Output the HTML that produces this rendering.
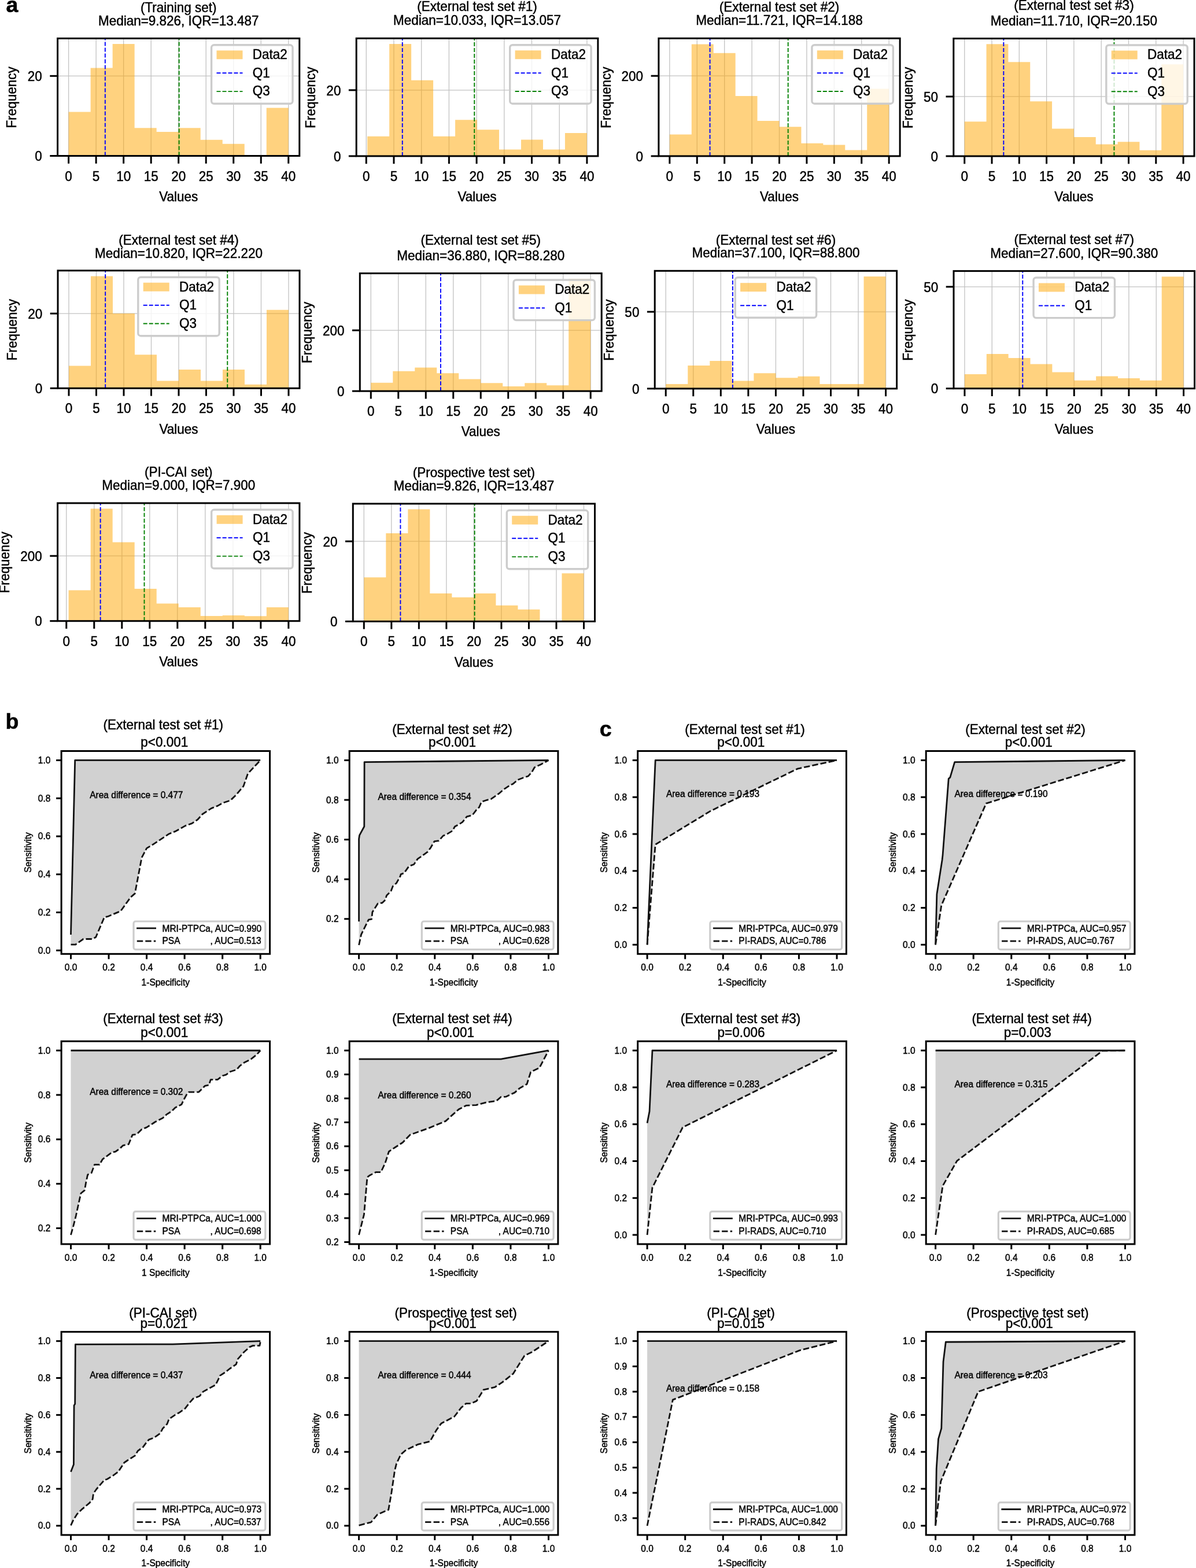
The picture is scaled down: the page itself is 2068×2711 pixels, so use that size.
<!DOCTYPE html><html><head><meta charset="utf-8"><title>Figure</title><style>html,body{margin:0;padding:0;background:#fff;}svg{display:block;}</style></head><body>
<svg width="2068" height="2711" viewBox="0 0 2068 2711" font-family="'Liberation Sans', Arial, Helvetica, sans-serif">
<rect width="2068" height="2711" fill="#fff"/>
<clipPath id="c1"><rect x="99.6" y="66.4" width="418.2" height="203.1"/></clipPath>
<g clip-path="url(#c1)">
<line x1="118.61" y1="66.4" x2="118.61" y2="269.5" stroke="#c2c2c2" stroke-width="1.3" stroke-linecap="butt"/>
<line x1="166.13" y1="66.4" x2="166.13" y2="269.5" stroke="#c2c2c2" stroke-width="1.3" stroke-linecap="butt"/>
<line x1="213.65" y1="66.4" x2="213.65" y2="269.5" stroke="#c2c2c2" stroke-width="1.3" stroke-linecap="butt"/>
<line x1="261.18" y1="66.4" x2="261.18" y2="269.5" stroke="#c2c2c2" stroke-width="1.3" stroke-linecap="butt"/>
<line x1="308.7" y1="66.4" x2="308.7" y2="269.5" stroke="#c2c2c2" stroke-width="1.3" stroke-linecap="butt"/>
<line x1="356.22" y1="66.4" x2="356.22" y2="269.5" stroke="#c2c2c2" stroke-width="1.3" stroke-linecap="butt"/>
<line x1="403.75" y1="66.4" x2="403.75" y2="269.5" stroke="#c2c2c2" stroke-width="1.3" stroke-linecap="butt"/>
<line x1="451.27" y1="66.4" x2="451.27" y2="269.5" stroke="#c2c2c2" stroke-width="1.3" stroke-linecap="butt"/>
<line x1="498.79" y1="66.4" x2="498.79" y2="269.5" stroke="#c2c2c2" stroke-width="1.3" stroke-linecap="butt"/>
<line x1="99.6" y1="269.5" x2="517.8" y2="269.5" stroke="#c2c2c2" stroke-width="1.3" stroke-linecap="butt"/>
<line x1="99.6" y1="131.34" x2="517.8" y2="131.34" stroke="#c2c2c2" stroke-width="1.3" stroke-linecap="butt"/>
<path d="M118.61 269.5H156.63V193.51H118.61ZM156.63 269.5H194.65V117.52H156.63ZM194.65 269.5H232.66V76.07H194.65ZM232.66 269.5H270.68V221.14H232.66ZM270.68 269.5H308.7V228.05H270.68ZM308.7 269.5H346.72V221.14H308.7ZM346.72 269.5H384.74V241.87H346.72ZM384.74 269.5H422.75V248.78H384.74ZM460.77 269.5H498.79V186.6H460.77Z" fill="#FFA500" fill-opacity="0.5"/>
<line x1="181.81" y1="269.5" x2="181.81" y2="66.4" stroke="#0000ff" stroke-width="1.9" stroke-linecap="butt" stroke-dasharray="7 3"/>
<line x1="309.65" y1="269.5" x2="309.65" y2="66.4" stroke="#008000" stroke-width="1.9" stroke-linecap="butt" stroke-dasharray="7 3"/>
<rect x="365.6" y="77.8" width="140.4" height="101.5" rx="4.5" fill="#fff" fill-opacity="0.8" stroke="#cccccc" stroke-width="3.4"/>
</g>
<rect x="374.5" y="87.3" width="45" height="15" fill="#FFA500" fill-opacity="0.5"/>
<text transform="translate(436.8 102.2) scale(1 1.04)" font-size="22.5" text-anchor="start" fill="#000" stroke="#000" stroke-width="0.45">Data2</text>
<line x1="374.5" y1="126.3" x2="419.5" y2="126.3" stroke="#0000ff" stroke-width="1.9" stroke-linecap="butt" stroke-dasharray="7 3"/>
<text transform="translate(436.8 133.7) scale(1 1.04)" font-size="22.5" text-anchor="start" fill="#000" stroke="#000" stroke-width="0.45">Q1</text>
<line x1="374.5" y1="158.1" x2="419.5" y2="158.1" stroke="#008000" stroke-width="1.9" stroke-linecap="butt" stroke-dasharray="7 3"/>
<text transform="translate(436.8 165.3) scale(1 1.04)" font-size="22.5" text-anchor="start" fill="#000" stroke="#000" stroke-width="0.45">Q3</text>
<rect x="99.6" y="66.4" width="418.2" height="203.1" fill="none" stroke="#000" stroke-width="3"/>
<line x1="118.61" y1="269.5" x2="118.61" y2="282.8" stroke="#000" stroke-width="3" stroke-linecap="butt"/>
<text transform="translate(118.61 312.5) scale(1 1.1)" font-size="22.5" text-anchor="middle" fill="#000" stroke="#000" stroke-width="0.45">0</text>
<line x1="166.13" y1="269.5" x2="166.13" y2="282.8" stroke="#000" stroke-width="3" stroke-linecap="butt"/>
<text transform="translate(166.13 312.5) scale(1 1.1)" font-size="22.5" text-anchor="middle" fill="#000" stroke="#000" stroke-width="0.45">5</text>
<line x1="213.65" y1="269.5" x2="213.65" y2="282.8" stroke="#000" stroke-width="3" stroke-linecap="butt"/>
<text transform="translate(213.65 312.5) scale(1 1.1)" font-size="22.5" text-anchor="middle" fill="#000" stroke="#000" stroke-width="0.45">10</text>
<line x1="261.18" y1="269.5" x2="261.18" y2="282.8" stroke="#000" stroke-width="3" stroke-linecap="butt"/>
<text transform="translate(261.18 312.5) scale(1 1.1)" font-size="22.5" text-anchor="middle" fill="#000" stroke="#000" stroke-width="0.45">15</text>
<line x1="308.7" y1="269.5" x2="308.7" y2="282.8" stroke="#000" stroke-width="3" stroke-linecap="butt"/>
<text transform="translate(308.7 312.5) scale(1 1.1)" font-size="22.5" text-anchor="middle" fill="#000" stroke="#000" stroke-width="0.45">20</text>
<line x1="356.22" y1="269.5" x2="356.22" y2="282.8" stroke="#000" stroke-width="3" stroke-linecap="butt"/>
<text transform="translate(356.22 312.5) scale(1 1.1)" font-size="22.5" text-anchor="middle" fill="#000" stroke="#000" stroke-width="0.45">25</text>
<line x1="403.75" y1="269.5" x2="403.75" y2="282.8" stroke="#000" stroke-width="3" stroke-linecap="butt"/>
<text transform="translate(403.75 312.5) scale(1 1.1)" font-size="22.5" text-anchor="middle" fill="#000" stroke="#000" stroke-width="0.45">30</text>
<line x1="451.27" y1="269.5" x2="451.27" y2="282.8" stroke="#000" stroke-width="3" stroke-linecap="butt"/>
<text transform="translate(451.27 312.5) scale(1 1.1)" font-size="22.5" text-anchor="middle" fill="#000" stroke="#000" stroke-width="0.45">35</text>
<line x1="498.79" y1="269.5" x2="498.79" y2="282.8" stroke="#000" stroke-width="3" stroke-linecap="butt"/>
<text transform="translate(498.79 312.5) scale(1 1.1)" font-size="22.5" text-anchor="middle" fill="#000" stroke="#000" stroke-width="0.45">40</text>
<line x1="86.3" y1="269.5" x2="99.6" y2="269.5" stroke="#000" stroke-width="3" stroke-linecap="butt"/>
<text transform="translate(72.8 278.2) scale(1 1.08)" font-size="22.5" text-anchor="end" fill="#000" stroke="#000" stroke-width="0.45">0</text>
<line x1="86.3" y1="131.34" x2="99.6" y2="131.34" stroke="#000" stroke-width="3" stroke-linecap="butt"/>
<text transform="translate(72.8 140.04) scale(1 1.08)" font-size="22.5" text-anchor="end" fill="#000" stroke="#000" stroke-width="0.45">20</text>
<text transform="translate(308.7 347.7) scale(1 1.04)" font-size="22.5" text-anchor="middle" fill="#000" stroke="#000" stroke-width="0.45">Values</text>
<text transform="translate(28.4 168.45) rotate(-90) scale(1 1.04)" font-size="22.5" text-anchor="middle" fill="#000" stroke="#000" stroke-width="0.45">Frequency</text>
<text transform="translate(308.7 21) scale(1 1.04)" font-size="22.5" text-anchor="middle" fill="#000" stroke="#000" stroke-width="0.45">(Training set)</text>
<text transform="translate(308.7 43.6) scale(1 1.04)" font-size="22.5" text-anchor="middle" fill="#000" stroke="#000" stroke-width="0.45">Median=9.826, IQR=13.487</text>
<clipPath id="c2"><rect x="616.2" y="66.3" width="417.7" height="203.6"/></clipPath>
<g clip-path="url(#c2)">
<line x1="633.28" y1="66.3" x2="633.28" y2="269.9" stroke="#c2c2c2" stroke-width="1.3" stroke-linecap="butt"/>
<line x1="680.98" y1="66.3" x2="680.98" y2="269.9" stroke="#c2c2c2" stroke-width="1.3" stroke-linecap="butt"/>
<line x1="728.69" y1="66.3" x2="728.69" y2="269.9" stroke="#c2c2c2" stroke-width="1.3" stroke-linecap="butt"/>
<line x1="776.39" y1="66.3" x2="776.39" y2="269.9" stroke="#c2c2c2" stroke-width="1.3" stroke-linecap="butt"/>
<line x1="824.1" y1="66.3" x2="824.1" y2="269.9" stroke="#c2c2c2" stroke-width="1.3" stroke-linecap="butt"/>
<line x1="871.8" y1="66.3" x2="871.8" y2="269.9" stroke="#c2c2c2" stroke-width="1.3" stroke-linecap="butt"/>
<line x1="919.5" y1="66.3" x2="919.5" y2="269.9" stroke="#c2c2c2" stroke-width="1.3" stroke-linecap="butt"/>
<line x1="967.21" y1="66.3" x2="967.21" y2="269.9" stroke="#c2c2c2" stroke-width="1.3" stroke-linecap="butt"/>
<line x1="1014.91" y1="66.3" x2="1014.91" y2="269.9" stroke="#c2c2c2" stroke-width="1.3" stroke-linecap="butt"/>
<line x1="616.2" y1="269.9" x2="1033.9" y2="269.9" stroke="#c2c2c2" stroke-width="1.3" stroke-linecap="butt"/>
<line x1="616.2" y1="155.84" x2="1033.9" y2="155.84" stroke="#c2c2c2" stroke-width="1.3" stroke-linecap="butt"/>
<path d="M635.19 269.9H673.16V235.68H635.19ZM673.16 269.9H711.13V76H673.16ZM711.13 269.9H749.1V138.73H711.13ZM749.1 269.9H787.08V235.68H749.1ZM787.08 269.9H825.05V207.17H787.08ZM825.05 269.9H863.02V224.28H825.05ZM863.02 269.9H901V258.49H863.02ZM901 269.9H938.97V241.38H901ZM938.97 269.9H976.94V258.49H938.97ZM976.94 269.9H1014.91V229.98H976.94Z" fill="#FFA500" fill-opacity="0.5"/>
<line x1="695.77" y1="269.9" x2="695.77" y2="66.3" stroke="#0000ff" stroke-width="1.9" stroke-linecap="butt" stroke-dasharray="7 3"/>
<line x1="820.28" y1="269.9" x2="820.28" y2="66.3" stroke="#008000" stroke-width="1.9" stroke-linecap="butt" stroke-dasharray="7 3"/>
<rect x="881.7" y="77.7" width="140.4" height="101.5" rx="4.5" fill="#fff" fill-opacity="0.8" stroke="#cccccc" stroke-width="3.4"/>
</g>
<rect x="890.6" y="87.2" width="45" height="15" fill="#FFA500" fill-opacity="0.5"/>
<text transform="translate(952.9 102.1) scale(1 1.04)" font-size="22.5" text-anchor="start" fill="#000" stroke="#000" stroke-width="0.45">Data2</text>
<line x1="890.6" y1="126.2" x2="935.6" y2="126.2" stroke="#0000ff" stroke-width="1.9" stroke-linecap="butt" stroke-dasharray="7 3"/>
<text transform="translate(952.9 133.6) scale(1 1.04)" font-size="22.5" text-anchor="start" fill="#000" stroke="#000" stroke-width="0.45">Q1</text>
<line x1="890.6" y1="158" x2="935.6" y2="158" stroke="#008000" stroke-width="1.9" stroke-linecap="butt" stroke-dasharray="7 3"/>
<text transform="translate(952.9 165.2) scale(1 1.04)" font-size="22.5" text-anchor="start" fill="#000" stroke="#000" stroke-width="0.45">Q3</text>
<rect x="616.2" y="66.3" width="417.7" height="203.6" fill="none" stroke="#000" stroke-width="3"/>
<line x1="633.28" y1="269.9" x2="633.28" y2="283.2" stroke="#000" stroke-width="3" stroke-linecap="butt"/>
<text transform="translate(633.28 312.9) scale(1 1.1)" font-size="22.5" text-anchor="middle" fill="#000" stroke="#000" stroke-width="0.45">0</text>
<line x1="680.98" y1="269.9" x2="680.98" y2="283.2" stroke="#000" stroke-width="3" stroke-linecap="butt"/>
<text transform="translate(680.98 312.9) scale(1 1.1)" font-size="22.5" text-anchor="middle" fill="#000" stroke="#000" stroke-width="0.45">5</text>
<line x1="728.69" y1="269.9" x2="728.69" y2="283.2" stroke="#000" stroke-width="3" stroke-linecap="butt"/>
<text transform="translate(728.69 312.9) scale(1 1.1)" font-size="22.5" text-anchor="middle" fill="#000" stroke="#000" stroke-width="0.45">10</text>
<line x1="776.39" y1="269.9" x2="776.39" y2="283.2" stroke="#000" stroke-width="3" stroke-linecap="butt"/>
<text transform="translate(776.39 312.9) scale(1 1.1)" font-size="22.5" text-anchor="middle" fill="#000" stroke="#000" stroke-width="0.45">15</text>
<line x1="824.1" y1="269.9" x2="824.1" y2="283.2" stroke="#000" stroke-width="3" stroke-linecap="butt"/>
<text transform="translate(824.1 312.9) scale(1 1.1)" font-size="22.5" text-anchor="middle" fill="#000" stroke="#000" stroke-width="0.45">20</text>
<line x1="871.8" y1="269.9" x2="871.8" y2="283.2" stroke="#000" stroke-width="3" stroke-linecap="butt"/>
<text transform="translate(871.8 312.9) scale(1 1.1)" font-size="22.5" text-anchor="middle" fill="#000" stroke="#000" stroke-width="0.45">25</text>
<line x1="919.5" y1="269.9" x2="919.5" y2="283.2" stroke="#000" stroke-width="3" stroke-linecap="butt"/>
<text transform="translate(919.5 312.9) scale(1 1.1)" font-size="22.5" text-anchor="middle" fill="#000" stroke="#000" stroke-width="0.45">30</text>
<line x1="967.21" y1="269.9" x2="967.21" y2="283.2" stroke="#000" stroke-width="3" stroke-linecap="butt"/>
<text transform="translate(967.21 312.9) scale(1 1.1)" font-size="22.5" text-anchor="middle" fill="#000" stroke="#000" stroke-width="0.45">35</text>
<line x1="1014.91" y1="269.9" x2="1014.91" y2="283.2" stroke="#000" stroke-width="3" stroke-linecap="butt"/>
<text transform="translate(1014.91 312.9) scale(1 1.1)" font-size="22.5" text-anchor="middle" fill="#000" stroke="#000" stroke-width="0.45">40</text>
<line x1="602.9" y1="269.9" x2="616.2" y2="269.9" stroke="#000" stroke-width="3" stroke-linecap="butt"/>
<text transform="translate(589.4 278.6) scale(1 1.08)" font-size="22.5" text-anchor="end" fill="#000" stroke="#000" stroke-width="0.45">0</text>
<line x1="602.9" y1="155.84" x2="616.2" y2="155.84" stroke="#000" stroke-width="3" stroke-linecap="butt"/>
<text transform="translate(589.4 164.54) scale(1 1.08)" font-size="22.5" text-anchor="end" fill="#000" stroke="#000" stroke-width="0.45">20</text>
<text transform="translate(825.05 348.1) scale(1 1.04)" font-size="22.5" text-anchor="middle" fill="#000" stroke="#000" stroke-width="0.45">Values</text>
<text transform="translate(545 168.6) rotate(-90) scale(1 1.04)" font-size="22.5" text-anchor="middle" fill="#000" stroke="#000" stroke-width="0.45">Frequency</text>
<text transform="translate(825.05 19.4) scale(1 1.04)" font-size="22.5" text-anchor="middle" fill="#000" stroke="#000" stroke-width="0.45">(External test set #1)</text>
<text transform="translate(825.05 43.4) scale(1 1.04)" font-size="22.5" text-anchor="middle" fill="#000" stroke="#000" stroke-width="0.45">Median=10.033, IQR=13.057</text>
<clipPath id="c3"><rect x="1138.9" y="66.3" width="417.2" height="203.6"/></clipPath>
<g clip-path="url(#c3)">
<line x1="1157.86" y1="66.3" x2="1157.86" y2="269.9" stroke="#c2c2c2" stroke-width="1.3" stroke-linecap="butt"/>
<line x1="1205.27" y1="66.3" x2="1205.27" y2="269.9" stroke="#c2c2c2" stroke-width="1.3" stroke-linecap="butt"/>
<line x1="1252.68" y1="66.3" x2="1252.68" y2="269.9" stroke="#c2c2c2" stroke-width="1.3" stroke-linecap="butt"/>
<line x1="1300.09" y1="66.3" x2="1300.09" y2="269.9" stroke="#c2c2c2" stroke-width="1.3" stroke-linecap="butt"/>
<line x1="1347.5" y1="66.3" x2="1347.5" y2="269.9" stroke="#c2c2c2" stroke-width="1.3" stroke-linecap="butt"/>
<line x1="1394.91" y1="66.3" x2="1394.91" y2="269.9" stroke="#c2c2c2" stroke-width="1.3" stroke-linecap="butt"/>
<line x1="1442.32" y1="66.3" x2="1442.32" y2="269.9" stroke="#c2c2c2" stroke-width="1.3" stroke-linecap="butt"/>
<line x1="1489.73" y1="66.3" x2="1489.73" y2="269.9" stroke="#c2c2c2" stroke-width="1.3" stroke-linecap="butt"/>
<line x1="1537.14" y1="66.3" x2="1537.14" y2="269.9" stroke="#c2c2c2" stroke-width="1.3" stroke-linecap="butt"/>
<line x1="1138.9" y1="269.9" x2="1556.1" y2="269.9" stroke="#c2c2c2" stroke-width="1.3" stroke-linecap="butt"/>
<line x1="1138.9" y1="131.21" x2="1556.1" y2="131.21" stroke="#c2c2c2" stroke-width="1.3" stroke-linecap="butt"/>
<path d="M1157.86 269.9H1195.79V232.45H1157.86ZM1195.79 269.9H1233.72V76.42H1195.79ZM1233.72 269.9H1271.65V91.68H1233.72ZM1271.65 269.9H1309.57V165.88H1271.65ZM1309.57 269.9H1347.5V208.88H1309.57ZM1347.5 269.9H1385.43V219.28H1347.5ZM1385.43 269.9H1423.35V247.71H1385.43ZM1423.35 269.9H1461.28V250.48H1423.35ZM1461.28 269.9H1499.21V259.5H1461.28ZM1499.21 269.9H1537.14V153.4H1499.21Z" fill="#FFA500" fill-opacity="0.5"/>
<line x1="1227.56" y1="269.9" x2="1227.56" y2="66.3" stroke="#0000ff" stroke-width="1.9" stroke-linecap="butt" stroke-dasharray="7 3"/>
<line x1="1362.67" y1="269.9" x2="1362.67" y2="66.3" stroke="#008000" stroke-width="1.9" stroke-linecap="butt" stroke-dasharray="7 3"/>
<rect x="1403.9" y="77.7" width="140.4" height="101.5" rx="4.5" fill="#fff" fill-opacity="0.8" stroke="#cccccc" stroke-width="3.4"/>
</g>
<rect x="1412.8" y="87.2" width="45" height="15" fill="#FFA500" fill-opacity="0.5"/>
<text transform="translate(1475.1 102.1) scale(1 1.04)" font-size="22.5" text-anchor="start" fill="#000" stroke="#000" stroke-width="0.45">Data2</text>
<line x1="1412.8" y1="126.2" x2="1457.8" y2="126.2" stroke="#0000ff" stroke-width="1.9" stroke-linecap="butt" stroke-dasharray="7 3"/>
<text transform="translate(1475.1 133.6) scale(1 1.04)" font-size="22.5" text-anchor="start" fill="#000" stroke="#000" stroke-width="0.45">Q1</text>
<line x1="1412.8" y1="158" x2="1457.8" y2="158" stroke="#008000" stroke-width="1.9" stroke-linecap="butt" stroke-dasharray="7 3"/>
<text transform="translate(1475.1 165.2) scale(1 1.04)" font-size="22.5" text-anchor="start" fill="#000" stroke="#000" stroke-width="0.45">Q3</text>
<rect x="1138.9" y="66.3" width="417.2" height="203.6" fill="none" stroke="#000" stroke-width="3"/>
<line x1="1157.86" y1="269.9" x2="1157.86" y2="283.2" stroke="#000" stroke-width="3" stroke-linecap="butt"/>
<text transform="translate(1157.86 312.9) scale(1 1.1)" font-size="22.5" text-anchor="middle" fill="#000" stroke="#000" stroke-width="0.45">0</text>
<line x1="1205.27" y1="269.9" x2="1205.27" y2="283.2" stroke="#000" stroke-width="3" stroke-linecap="butt"/>
<text transform="translate(1205.27 312.9) scale(1 1.1)" font-size="22.5" text-anchor="middle" fill="#000" stroke="#000" stroke-width="0.45">5</text>
<line x1="1252.68" y1="269.9" x2="1252.68" y2="283.2" stroke="#000" stroke-width="3" stroke-linecap="butt"/>
<text transform="translate(1252.68 312.9) scale(1 1.1)" font-size="22.5" text-anchor="middle" fill="#000" stroke="#000" stroke-width="0.45">10</text>
<line x1="1300.09" y1="269.9" x2="1300.09" y2="283.2" stroke="#000" stroke-width="3" stroke-linecap="butt"/>
<text transform="translate(1300.09 312.9) scale(1 1.1)" font-size="22.5" text-anchor="middle" fill="#000" stroke="#000" stroke-width="0.45">15</text>
<line x1="1347.5" y1="269.9" x2="1347.5" y2="283.2" stroke="#000" stroke-width="3" stroke-linecap="butt"/>
<text transform="translate(1347.5 312.9) scale(1 1.1)" font-size="22.5" text-anchor="middle" fill="#000" stroke="#000" stroke-width="0.45">20</text>
<line x1="1394.91" y1="269.9" x2="1394.91" y2="283.2" stroke="#000" stroke-width="3" stroke-linecap="butt"/>
<text transform="translate(1394.91 312.9) scale(1 1.1)" font-size="22.5" text-anchor="middle" fill="#000" stroke="#000" stroke-width="0.45">25</text>
<line x1="1442.32" y1="269.9" x2="1442.32" y2="283.2" stroke="#000" stroke-width="3" stroke-linecap="butt"/>
<text transform="translate(1442.32 312.9) scale(1 1.1)" font-size="22.5" text-anchor="middle" fill="#000" stroke="#000" stroke-width="0.45">30</text>
<line x1="1489.73" y1="269.9" x2="1489.73" y2="283.2" stroke="#000" stroke-width="3" stroke-linecap="butt"/>
<text transform="translate(1489.73 312.9) scale(1 1.1)" font-size="22.5" text-anchor="middle" fill="#000" stroke="#000" stroke-width="0.45">35</text>
<line x1="1537.14" y1="269.9" x2="1537.14" y2="283.2" stroke="#000" stroke-width="3" stroke-linecap="butt"/>
<text transform="translate(1537.14 312.9) scale(1 1.1)" font-size="22.5" text-anchor="middle" fill="#000" stroke="#000" stroke-width="0.45">40</text>
<line x1="1125.6" y1="269.9" x2="1138.9" y2="269.9" stroke="#000" stroke-width="3" stroke-linecap="butt"/>
<text transform="translate(1112.1 278.6) scale(1 1.08)" font-size="22.5" text-anchor="end" fill="#000" stroke="#000" stroke-width="0.45">0</text>
<line x1="1125.6" y1="131.21" x2="1138.9" y2="131.21" stroke="#000" stroke-width="3" stroke-linecap="butt"/>
<text transform="translate(1112.1 139.91) scale(1 1.08)" font-size="22.5" text-anchor="end" fill="#000" stroke="#000" stroke-width="0.45">200</text>
<text transform="translate(1347.5 348.1) scale(1 1.04)" font-size="22.5" text-anchor="middle" fill="#000" stroke="#000" stroke-width="0.45">Values</text>
<text transform="translate(1055.5 168.6) rotate(-90) scale(1 1.04)" font-size="22.5" text-anchor="middle" fill="#000" stroke="#000" stroke-width="0.45">Frequency</text>
<text transform="translate(1347.5 19.6) scale(1 1.04)" font-size="22.5" text-anchor="middle" fill="#000" stroke="#000" stroke-width="0.45">(External test set #2)</text>
<text transform="translate(1347.5 43.4) scale(1 1.04)" font-size="22.5" text-anchor="middle" fill="#000" stroke="#000" stroke-width="0.45">Median=11.721, IQR=14.188</text>
<clipPath id="c4"><rect x="1648.8" y="66.6" width="416.2" height="203.4"/></clipPath>
<g clip-path="url(#c4)">
<line x1="1667.72" y1="66.6" x2="1667.72" y2="270" stroke="#c2c2c2" stroke-width="1.3" stroke-linecap="butt"/>
<line x1="1715.01" y1="66.6" x2="1715.01" y2="270" stroke="#c2c2c2" stroke-width="1.3" stroke-linecap="butt"/>
<line x1="1762.31" y1="66.6" x2="1762.31" y2="270" stroke="#c2c2c2" stroke-width="1.3" stroke-linecap="butt"/>
<line x1="1809.6" y1="66.6" x2="1809.6" y2="270" stroke="#c2c2c2" stroke-width="1.3" stroke-linecap="butt"/>
<line x1="1856.9" y1="66.6" x2="1856.9" y2="270" stroke="#c2c2c2" stroke-width="1.3" stroke-linecap="butt"/>
<line x1="1904.2" y1="66.6" x2="1904.2" y2="270" stroke="#c2c2c2" stroke-width="1.3" stroke-linecap="butt"/>
<line x1="1951.49" y1="66.6" x2="1951.49" y2="270" stroke="#c2c2c2" stroke-width="1.3" stroke-linecap="butt"/>
<line x1="1998.79" y1="66.6" x2="1998.79" y2="270" stroke="#c2c2c2" stroke-width="1.3" stroke-linecap="butt"/>
<line x1="2046.08" y1="66.6" x2="2046.08" y2="270" stroke="#c2c2c2" stroke-width="1.3" stroke-linecap="butt"/>
<line x1="1648.8" y1="270" x2="2065" y2="270" stroke="#c2c2c2" stroke-width="1.3" stroke-linecap="butt"/>
<line x1="1648.8" y1="166.96" x2="2065" y2="166.96" stroke="#c2c2c2" stroke-width="1.3" stroke-linecap="butt"/>
<path d="M1667.72 270H1705.55V210.24H1667.72ZM1705.55 270H1743.39V76.29H1705.55ZM1743.39 270H1781.23V107.2H1743.39ZM1781.23 270H1819.06V175.2H1781.23ZM1819.06 270H1856.9V222.6H1819.06ZM1856.9 270H1894.74V237.03H1856.9ZM1894.74 270H1932.57V249.39H1894.74ZM1932.57 270H1970.41V245.27H1932.57ZM1970.41 270H2008.25V259.7H1970.41ZM2008.25 270H2046.08V111.32H2008.25Z" fill="#FFA500" fill-opacity="0.5"/>
<line x1="1735.35" y1="270" x2="1735.35" y2="66.6" stroke="#0000ff" stroke-width="1.9" stroke-linecap="butt" stroke-dasharray="7 3"/>
<line x1="1926.42" y1="270" x2="1926.42" y2="66.6" stroke="#008000" stroke-width="1.9" stroke-linecap="butt" stroke-dasharray="7 3"/>
<rect x="1912.8" y="78" width="140.4" height="101.5" rx="4.5" fill="#fff" fill-opacity="0.8" stroke="#cccccc" stroke-width="3.4"/>
</g>
<rect x="1921.7" y="87.5" width="45" height="15" fill="#FFA500" fill-opacity="0.5"/>
<text transform="translate(1984 102.4) scale(1 1.04)" font-size="22.5" text-anchor="start" fill="#000" stroke="#000" stroke-width="0.45">Data2</text>
<line x1="1921.7" y1="126.5" x2="1966.7" y2="126.5" stroke="#0000ff" stroke-width="1.9" stroke-linecap="butt" stroke-dasharray="7 3"/>
<text transform="translate(1984 133.9) scale(1 1.04)" font-size="22.5" text-anchor="start" fill="#000" stroke="#000" stroke-width="0.45">Q1</text>
<line x1="1921.7" y1="158.3" x2="1966.7" y2="158.3" stroke="#008000" stroke-width="1.9" stroke-linecap="butt" stroke-dasharray="7 3"/>
<text transform="translate(1984 165.5) scale(1 1.04)" font-size="22.5" text-anchor="start" fill="#000" stroke="#000" stroke-width="0.45">Q3</text>
<rect x="1648.8" y="66.6" width="416.2" height="203.4" fill="none" stroke="#000" stroke-width="3"/>
<line x1="1667.72" y1="270" x2="1667.72" y2="283.3" stroke="#000" stroke-width="3" stroke-linecap="butt"/>
<text transform="translate(1667.72 313) scale(1 1.1)" font-size="22.5" text-anchor="middle" fill="#000" stroke="#000" stroke-width="0.45">0</text>
<line x1="1715.01" y1="270" x2="1715.01" y2="283.3" stroke="#000" stroke-width="3" stroke-linecap="butt"/>
<text transform="translate(1715.01 313) scale(1 1.1)" font-size="22.5" text-anchor="middle" fill="#000" stroke="#000" stroke-width="0.45">5</text>
<line x1="1762.31" y1="270" x2="1762.31" y2="283.3" stroke="#000" stroke-width="3" stroke-linecap="butt"/>
<text transform="translate(1762.31 313) scale(1 1.1)" font-size="22.5" text-anchor="middle" fill="#000" stroke="#000" stroke-width="0.45">10</text>
<line x1="1809.6" y1="270" x2="1809.6" y2="283.3" stroke="#000" stroke-width="3" stroke-linecap="butt"/>
<text transform="translate(1809.6 313) scale(1 1.1)" font-size="22.5" text-anchor="middle" fill="#000" stroke="#000" stroke-width="0.45">15</text>
<line x1="1856.9" y1="270" x2="1856.9" y2="283.3" stroke="#000" stroke-width="3" stroke-linecap="butt"/>
<text transform="translate(1856.9 313) scale(1 1.1)" font-size="22.5" text-anchor="middle" fill="#000" stroke="#000" stroke-width="0.45">20</text>
<line x1="1904.2" y1="270" x2="1904.2" y2="283.3" stroke="#000" stroke-width="3" stroke-linecap="butt"/>
<text transform="translate(1904.2 313) scale(1 1.1)" font-size="22.5" text-anchor="middle" fill="#000" stroke="#000" stroke-width="0.45">25</text>
<line x1="1951.49" y1="270" x2="1951.49" y2="283.3" stroke="#000" stroke-width="3" stroke-linecap="butt"/>
<text transform="translate(1951.49 313) scale(1 1.1)" font-size="22.5" text-anchor="middle" fill="#000" stroke="#000" stroke-width="0.45">30</text>
<line x1="1998.79" y1="270" x2="1998.79" y2="283.3" stroke="#000" stroke-width="3" stroke-linecap="butt"/>
<text transform="translate(1998.79 313) scale(1 1.1)" font-size="22.5" text-anchor="middle" fill="#000" stroke="#000" stroke-width="0.45">35</text>
<line x1="2046.08" y1="270" x2="2046.08" y2="283.3" stroke="#000" stroke-width="3" stroke-linecap="butt"/>
<text transform="translate(2046.08 313) scale(1 1.1)" font-size="22.5" text-anchor="middle" fill="#000" stroke="#000" stroke-width="0.45">40</text>
<line x1="1635.5" y1="270" x2="1648.8" y2="270" stroke="#000" stroke-width="3" stroke-linecap="butt"/>
<text transform="translate(1622 278.7) scale(1 1.08)" font-size="22.5" text-anchor="end" fill="#000" stroke="#000" stroke-width="0.45">0</text>
<line x1="1635.5" y1="166.96" x2="1648.8" y2="166.96" stroke="#000" stroke-width="3" stroke-linecap="butt"/>
<text transform="translate(1622 175.66) scale(1 1.08)" font-size="22.5" text-anchor="end" fill="#000" stroke="#000" stroke-width="0.45">50</text>
<text transform="translate(1856.9 348.2) scale(1 1.04)" font-size="22.5" text-anchor="middle" fill="#000" stroke="#000" stroke-width="0.45">Values</text>
<text transform="translate(1577.6 168.8) rotate(-90) scale(1 1.04)" font-size="22.5" text-anchor="middle" fill="#000" stroke="#000" stroke-width="0.45">Frequency</text>
<text transform="translate(1856.9 16.8) scale(1 1.04)" font-size="22.5" text-anchor="middle" fill="#000" stroke="#000" stroke-width="0.45">(External test set #3)</text>
<text transform="translate(1856.9 43.6) scale(1 1.04)" font-size="22.5" text-anchor="middle" fill="#000" stroke="#000" stroke-width="0.45">Median=11.710, IQR=20.150</text>
<clipPath id="c5"><rect x="100" y="467.8" width="418" height="203.5"/></clipPath>
<g clip-path="url(#c5)">
<line x1="119" y1="467.8" x2="119" y2="671.3" stroke="#c2c2c2" stroke-width="1.3" stroke-linecap="butt"/>
<line x1="166.5" y1="467.8" x2="166.5" y2="671.3" stroke="#c2c2c2" stroke-width="1.3" stroke-linecap="butt"/>
<line x1="214" y1="467.8" x2="214" y2="671.3" stroke="#c2c2c2" stroke-width="1.3" stroke-linecap="butt"/>
<line x1="261.5" y1="467.8" x2="261.5" y2="671.3" stroke="#c2c2c2" stroke-width="1.3" stroke-linecap="butt"/>
<line x1="309" y1="467.8" x2="309" y2="671.3" stroke="#c2c2c2" stroke-width="1.3" stroke-linecap="butt"/>
<line x1="356.5" y1="467.8" x2="356.5" y2="671.3" stroke="#c2c2c2" stroke-width="1.3" stroke-linecap="butt"/>
<line x1="404" y1="467.8" x2="404" y2="671.3" stroke="#c2c2c2" stroke-width="1.3" stroke-linecap="butt"/>
<line x1="451.5" y1="467.8" x2="451.5" y2="671.3" stroke="#c2c2c2" stroke-width="1.3" stroke-linecap="butt"/>
<line x1="499" y1="467.8" x2="499" y2="671.3" stroke="#c2c2c2" stroke-width="1.3" stroke-linecap="butt"/>
<line x1="100" y1="671.3" x2="518" y2="671.3" stroke="#c2c2c2" stroke-width="1.3" stroke-linecap="butt"/>
<line x1="100" y1="542.09" x2="518" y2="542.09" stroke="#c2c2c2" stroke-width="1.3" stroke-linecap="butt"/>
<path d="M119 671.3H157V632.54H119ZM157 671.3H195V477.49H157ZM195 671.3H233V542.09H195ZM233 671.3H271V613.16H233ZM271 671.3H309V658.38H271ZM309 671.3H347V639H309ZM347 671.3H385V658.38H347ZM385 671.3H423V639H385ZM423 671.3H461V664.84H423ZM461 671.3H499V535.63H461Z" fill="#FFA500" fill-opacity="0.5"/>
<line x1="182.18" y1="671.3" x2="182.18" y2="467.8" stroke="#0000ff" stroke-width="1.9" stroke-linecap="butt" stroke-dasharray="7 3"/>
<line x1="393.27" y1="671.3" x2="393.27" y2="467.8" stroke="#008000" stroke-width="1.9" stroke-linecap="butt" stroke-dasharray="7 3"/>
<rect x="238.8" y="479.2" width="140.4" height="101.5" rx="4.5" fill="#fff" fill-opacity="0.8" stroke="#cccccc" stroke-width="3.4"/>
</g>
<rect x="247.7" y="488.7" width="45" height="15" fill="#FFA500" fill-opacity="0.5"/>
<text transform="translate(310 503.6) scale(1 1.04)" font-size="22.5" text-anchor="start" fill="#000" stroke="#000" stroke-width="0.45">Data2</text>
<line x1="247.7" y1="527.7" x2="292.7" y2="527.7" stroke="#0000ff" stroke-width="1.9" stroke-linecap="butt" stroke-dasharray="7 3"/>
<text transform="translate(310 535.1) scale(1 1.04)" font-size="22.5" text-anchor="start" fill="#000" stroke="#000" stroke-width="0.45">Q1</text>
<line x1="247.7" y1="559.5" x2="292.7" y2="559.5" stroke="#008000" stroke-width="1.9" stroke-linecap="butt" stroke-dasharray="7 3"/>
<text transform="translate(310 566.7) scale(1 1.04)" font-size="22.5" text-anchor="start" fill="#000" stroke="#000" stroke-width="0.45">Q3</text>
<rect x="100" y="467.8" width="418" height="203.5" fill="none" stroke="#000" stroke-width="3"/>
<line x1="119" y1="671.3" x2="119" y2="684.6" stroke="#000" stroke-width="3" stroke-linecap="butt"/>
<text transform="translate(119 714.3) scale(1 1.1)" font-size="22.5" text-anchor="middle" fill="#000" stroke="#000" stroke-width="0.45">0</text>
<line x1="166.5" y1="671.3" x2="166.5" y2="684.6" stroke="#000" stroke-width="3" stroke-linecap="butt"/>
<text transform="translate(166.5 714.3) scale(1 1.1)" font-size="22.5" text-anchor="middle" fill="#000" stroke="#000" stroke-width="0.45">5</text>
<line x1="214" y1="671.3" x2="214" y2="684.6" stroke="#000" stroke-width="3" stroke-linecap="butt"/>
<text transform="translate(214 714.3) scale(1 1.1)" font-size="22.5" text-anchor="middle" fill="#000" stroke="#000" stroke-width="0.45">10</text>
<line x1="261.5" y1="671.3" x2="261.5" y2="684.6" stroke="#000" stroke-width="3" stroke-linecap="butt"/>
<text transform="translate(261.5 714.3) scale(1 1.1)" font-size="22.5" text-anchor="middle" fill="#000" stroke="#000" stroke-width="0.45">15</text>
<line x1="309" y1="671.3" x2="309" y2="684.6" stroke="#000" stroke-width="3" stroke-linecap="butt"/>
<text transform="translate(309 714.3) scale(1 1.1)" font-size="22.5" text-anchor="middle" fill="#000" stroke="#000" stroke-width="0.45">20</text>
<line x1="356.5" y1="671.3" x2="356.5" y2="684.6" stroke="#000" stroke-width="3" stroke-linecap="butt"/>
<text transform="translate(356.5 714.3) scale(1 1.1)" font-size="22.5" text-anchor="middle" fill="#000" stroke="#000" stroke-width="0.45">25</text>
<line x1="404" y1="671.3" x2="404" y2="684.6" stroke="#000" stroke-width="3" stroke-linecap="butt"/>
<text transform="translate(404 714.3) scale(1 1.1)" font-size="22.5" text-anchor="middle" fill="#000" stroke="#000" stroke-width="0.45">30</text>
<line x1="451.5" y1="671.3" x2="451.5" y2="684.6" stroke="#000" stroke-width="3" stroke-linecap="butt"/>
<text transform="translate(451.5 714.3) scale(1 1.1)" font-size="22.5" text-anchor="middle" fill="#000" stroke="#000" stroke-width="0.45">35</text>
<line x1="499" y1="671.3" x2="499" y2="684.6" stroke="#000" stroke-width="3" stroke-linecap="butt"/>
<text transform="translate(499 714.3) scale(1 1.1)" font-size="22.5" text-anchor="middle" fill="#000" stroke="#000" stroke-width="0.45">40</text>
<line x1="86.7" y1="671.3" x2="100" y2="671.3" stroke="#000" stroke-width="3" stroke-linecap="butt"/>
<text transform="translate(73.2 680) scale(1 1.08)" font-size="22.5" text-anchor="end" fill="#000" stroke="#000" stroke-width="0.45">0</text>
<line x1="86.7" y1="542.09" x2="100" y2="542.09" stroke="#000" stroke-width="3" stroke-linecap="butt"/>
<text transform="translate(73.2 550.79) scale(1 1.08)" font-size="22.5" text-anchor="end" fill="#000" stroke="#000" stroke-width="0.45">20</text>
<text transform="translate(309 749.5) scale(1 1.04)" font-size="22.5" text-anchor="middle" fill="#000" stroke="#000" stroke-width="0.45">Values</text>
<text transform="translate(28.8 570.05) rotate(-90) scale(1 1.04)" font-size="22.5" text-anchor="middle" fill="#000" stroke="#000" stroke-width="0.45">Frequency</text>
<text transform="translate(309 422.5) scale(1 1.04)" font-size="22.5" text-anchor="middle" fill="#000" stroke="#000" stroke-width="0.45">(External test set #4)</text>
<text transform="translate(309 445.7) scale(1 1.04)" font-size="22.5" text-anchor="middle" fill="#000" stroke="#000" stroke-width="0.45">Median=10.820, IQR=22.220</text>
<clipPath id="c6"><rect x="622.3" y="472.6" width="417.9" height="203.6"/></clipPath>
<g clip-path="url(#c6)">
<line x1="641.3" y1="472.6" x2="641.3" y2="676.2" stroke="#c2c2c2" stroke-width="1.3" stroke-linecap="butt"/>
<line x1="688.78" y1="472.6" x2="688.78" y2="676.2" stroke="#c2c2c2" stroke-width="1.3" stroke-linecap="butt"/>
<line x1="736.27" y1="472.6" x2="736.27" y2="676.2" stroke="#c2c2c2" stroke-width="1.3" stroke-linecap="butt"/>
<line x1="783.76" y1="472.6" x2="783.76" y2="676.2" stroke="#c2c2c2" stroke-width="1.3" stroke-linecap="butt"/>
<line x1="831.25" y1="472.6" x2="831.25" y2="676.2" stroke="#c2c2c2" stroke-width="1.3" stroke-linecap="butt"/>
<line x1="878.74" y1="472.6" x2="878.74" y2="676.2" stroke="#c2c2c2" stroke-width="1.3" stroke-linecap="butt"/>
<line x1="926.23" y1="472.6" x2="926.23" y2="676.2" stroke="#c2c2c2" stroke-width="1.3" stroke-linecap="butt"/>
<line x1="973.72" y1="472.6" x2="973.72" y2="676.2" stroke="#c2c2c2" stroke-width="1.3" stroke-linecap="butt"/>
<line x1="1021.2" y1="472.6" x2="1021.2" y2="676.2" stroke="#c2c2c2" stroke-width="1.3" stroke-linecap="butt"/>
<line x1="622.3" y1="676.2" x2="1040.2" y2="676.2" stroke="#c2c2c2" stroke-width="1.3" stroke-linecap="butt"/>
<line x1="622.3" y1="571.1" x2="1040.2" y2="571.1" stroke="#c2c2c2" stroke-width="1.3" stroke-linecap="butt"/>
<path d="M641.3 676.2H679.29V661.7H641.3ZM679.29 676.2H717.28V641.78H679.29ZM717.28 676.2H755.27V635.47H717.28ZM755.27 676.2H793.26V645.25H755.27ZM793.26 676.2H831.25V655.39H793.26ZM831.25 676.2H869.24V662.27H831.25ZM869.24 676.2H907.23V668H869.24ZM907.23 676.2H945.22V662.27H907.23ZM945.22 676.2H983.21V666.37H945.22ZM983.21 676.2H1021.2V482.3H983.21Z" fill="#FFA500" fill-opacity="0.5"/>
<line x1="761.92" y1="676.2" x2="761.92" y2="472.6" stroke="#0000ff" stroke-width="1.9" stroke-linecap="butt" stroke-dasharray="7 3"/>
<rect x="888" y="484" width="140.4" height="69.6" rx="4.5" fill="#fff" fill-opacity="0.8" stroke="#cccccc" stroke-width="3.4"/>
</g>
<rect x="896.9" y="493.5" width="45" height="15" fill="#FFA500" fill-opacity="0.5"/>
<text transform="translate(959.2 508.4) scale(1 1.04)" font-size="22.5" text-anchor="start" fill="#000" stroke="#000" stroke-width="0.45">Data2</text>
<line x1="896.9" y1="532.5" x2="941.9" y2="532.5" stroke="#0000ff" stroke-width="1.9" stroke-linecap="butt" stroke-dasharray="7 3"/>
<text transform="translate(959.2 539.9) scale(1 1.04)" font-size="22.5" text-anchor="start" fill="#000" stroke="#000" stroke-width="0.45">Q1</text>
<rect x="622.3" y="472.6" width="417.9" height="203.6" fill="none" stroke="#000" stroke-width="3"/>
<line x1="641.3" y1="676.2" x2="641.3" y2="689.5" stroke="#000" stroke-width="3" stroke-linecap="butt"/>
<text transform="translate(641.3 719.2) scale(1 1.1)" font-size="22.5" text-anchor="middle" fill="#000" stroke="#000" stroke-width="0.45">0</text>
<line x1="688.78" y1="676.2" x2="688.78" y2="689.5" stroke="#000" stroke-width="3" stroke-linecap="butt"/>
<text transform="translate(688.78 719.2) scale(1 1.1)" font-size="22.5" text-anchor="middle" fill="#000" stroke="#000" stroke-width="0.45">5</text>
<line x1="736.27" y1="676.2" x2="736.27" y2="689.5" stroke="#000" stroke-width="3" stroke-linecap="butt"/>
<text transform="translate(736.27 719.2) scale(1 1.1)" font-size="22.5" text-anchor="middle" fill="#000" stroke="#000" stroke-width="0.45">10</text>
<line x1="783.76" y1="676.2" x2="783.76" y2="689.5" stroke="#000" stroke-width="3" stroke-linecap="butt"/>
<text transform="translate(783.76 719.2) scale(1 1.1)" font-size="22.5" text-anchor="middle" fill="#000" stroke="#000" stroke-width="0.45">15</text>
<line x1="831.25" y1="676.2" x2="831.25" y2="689.5" stroke="#000" stroke-width="3" stroke-linecap="butt"/>
<text transform="translate(831.25 719.2) scale(1 1.1)" font-size="22.5" text-anchor="middle" fill="#000" stroke="#000" stroke-width="0.45">20</text>
<line x1="878.74" y1="676.2" x2="878.74" y2="689.5" stroke="#000" stroke-width="3" stroke-linecap="butt"/>
<text transform="translate(878.74 719.2) scale(1 1.1)" font-size="22.5" text-anchor="middle" fill="#000" stroke="#000" stroke-width="0.45">25</text>
<line x1="926.23" y1="676.2" x2="926.23" y2="689.5" stroke="#000" stroke-width="3" stroke-linecap="butt"/>
<text transform="translate(926.23 719.2) scale(1 1.1)" font-size="22.5" text-anchor="middle" fill="#000" stroke="#000" stroke-width="0.45">30</text>
<line x1="973.72" y1="676.2" x2="973.72" y2="689.5" stroke="#000" stroke-width="3" stroke-linecap="butt"/>
<text transform="translate(973.72 719.2) scale(1 1.1)" font-size="22.5" text-anchor="middle" fill="#000" stroke="#000" stroke-width="0.45">35</text>
<line x1="1021.2" y1="676.2" x2="1021.2" y2="689.5" stroke="#000" stroke-width="3" stroke-linecap="butt"/>
<text transform="translate(1021.2 719.2) scale(1 1.1)" font-size="22.5" text-anchor="middle" fill="#000" stroke="#000" stroke-width="0.45">40</text>
<line x1="609" y1="676.2" x2="622.3" y2="676.2" stroke="#000" stroke-width="3" stroke-linecap="butt"/>
<text transform="translate(595.5 684.9) scale(1 1.08)" font-size="22.5" text-anchor="end" fill="#000" stroke="#000" stroke-width="0.45">0</text>
<line x1="609" y1="571.1" x2="622.3" y2="571.1" stroke="#000" stroke-width="3" stroke-linecap="butt"/>
<text transform="translate(595.5 579.8) scale(1 1.08)" font-size="22.5" text-anchor="end" fill="#000" stroke="#000" stroke-width="0.45">200</text>
<text transform="translate(831.25 754.4) scale(1 1.04)" font-size="22.5" text-anchor="middle" fill="#000" stroke="#000" stroke-width="0.45">Values</text>
<text transform="translate(538.9 574.9) rotate(-90) scale(1 1.04)" font-size="22.5" text-anchor="middle" fill="#000" stroke="#000" stroke-width="0.45">Frequency</text>
<text transform="translate(831.25 423.1) scale(1 1.04)" font-size="22.5" text-anchor="middle" fill="#000" stroke="#000" stroke-width="0.45">(External test set #5)</text>
<text transform="translate(831.25 449.9) scale(1 1.04)" font-size="22.5" text-anchor="middle" fill="#000" stroke="#000" stroke-width="0.45">Median=36.880, IQR=88.280</text>
<clipPath id="c7"><rect x="1132.2" y="468.3" width="418.4" height="203.6"/></clipPath>
<g clip-path="url(#c7)">
<line x1="1151.22" y1="468.3" x2="1151.22" y2="671.9" stroke="#c2c2c2" stroke-width="1.3" stroke-linecap="butt"/>
<line x1="1198.76" y1="468.3" x2="1198.76" y2="671.9" stroke="#c2c2c2" stroke-width="1.3" stroke-linecap="butt"/>
<line x1="1246.31" y1="468.3" x2="1246.31" y2="671.9" stroke="#c2c2c2" stroke-width="1.3" stroke-linecap="butt"/>
<line x1="1293.85" y1="468.3" x2="1293.85" y2="671.9" stroke="#c2c2c2" stroke-width="1.3" stroke-linecap="butt"/>
<line x1="1341.4" y1="468.3" x2="1341.4" y2="671.9" stroke="#c2c2c2" stroke-width="1.3" stroke-linecap="butt"/>
<line x1="1388.95" y1="468.3" x2="1388.95" y2="671.9" stroke="#c2c2c2" stroke-width="1.3" stroke-linecap="butt"/>
<line x1="1436.49" y1="468.3" x2="1436.49" y2="671.9" stroke="#c2c2c2" stroke-width="1.3" stroke-linecap="butt"/>
<line x1="1484.04" y1="468.3" x2="1484.04" y2="671.9" stroke="#c2c2c2" stroke-width="1.3" stroke-linecap="butt"/>
<line x1="1531.58" y1="468.3" x2="1531.58" y2="671.9" stroke="#c2c2c2" stroke-width="1.3" stroke-linecap="butt"/>
<line x1="1132.2" y1="671.9" x2="1550.6" y2="671.9" stroke="#c2c2c2" stroke-width="1.3" stroke-linecap="butt"/>
<line x1="1132.2" y1="539.09" x2="1550.6" y2="539.09" stroke="#c2c2c2" stroke-width="1.3" stroke-linecap="butt"/>
<path d="M1151.22 671.9H1189.25V663.93H1151.22ZM1189.25 671.9H1227.29V632.06H1189.25ZM1227.29 671.9H1265.33V624.09H1227.29ZM1265.33 671.9H1303.36V658.62H1265.33ZM1303.36 671.9H1341.4V645.34H1303.36ZM1341.4 671.9H1379.44V653.31H1341.4ZM1379.44 671.9H1417.47V650.65H1379.44ZM1417.47 671.9H1455.51V663.93H1417.47ZM1455.51 671.9H1493.55V663.93H1455.51ZM1493.55 671.9H1531.58V478H1493.55Z" fill="#FFA500" fill-opacity="0.5"/>
<line x1="1266.85" y1="671.9" x2="1266.85" y2="468.3" stroke="#0000ff" stroke-width="1.9" stroke-linecap="butt" stroke-dasharray="7 3"/>
<rect x="1271.2" y="479.7" width="140.4" height="69.6" rx="4.5" fill="#fff" fill-opacity="0.8" stroke="#cccccc" stroke-width="3.4"/>
</g>
<rect x="1280.1" y="489.2" width="45" height="15" fill="#FFA500" fill-opacity="0.5"/>
<text transform="translate(1342.4 504.1) scale(1 1.04)" font-size="22.5" text-anchor="start" fill="#000" stroke="#000" stroke-width="0.45">Data2</text>
<line x1="1280.1" y1="528.2" x2="1325.1" y2="528.2" stroke="#0000ff" stroke-width="1.9" stroke-linecap="butt" stroke-dasharray="7 3"/>
<text transform="translate(1342.4 535.6) scale(1 1.04)" font-size="22.5" text-anchor="start" fill="#000" stroke="#000" stroke-width="0.45">Q1</text>
<rect x="1132.2" y="468.3" width="418.4" height="203.6" fill="none" stroke="#000" stroke-width="3"/>
<line x1="1151.22" y1="671.9" x2="1151.22" y2="685.2" stroke="#000" stroke-width="3" stroke-linecap="butt"/>
<text transform="translate(1151.22 714.9) scale(1 1.1)" font-size="22.5" text-anchor="middle" fill="#000" stroke="#000" stroke-width="0.45">0</text>
<line x1="1198.76" y1="671.9" x2="1198.76" y2="685.2" stroke="#000" stroke-width="3" stroke-linecap="butt"/>
<text transform="translate(1198.76 714.9) scale(1 1.1)" font-size="22.5" text-anchor="middle" fill="#000" stroke="#000" stroke-width="0.45">5</text>
<line x1="1246.31" y1="671.9" x2="1246.31" y2="685.2" stroke="#000" stroke-width="3" stroke-linecap="butt"/>
<text transform="translate(1246.31 714.9) scale(1 1.1)" font-size="22.5" text-anchor="middle" fill="#000" stroke="#000" stroke-width="0.45">10</text>
<line x1="1293.85" y1="671.9" x2="1293.85" y2="685.2" stroke="#000" stroke-width="3" stroke-linecap="butt"/>
<text transform="translate(1293.85 714.9) scale(1 1.1)" font-size="22.5" text-anchor="middle" fill="#000" stroke="#000" stroke-width="0.45">15</text>
<line x1="1341.4" y1="671.9" x2="1341.4" y2="685.2" stroke="#000" stroke-width="3" stroke-linecap="butt"/>
<text transform="translate(1341.4 714.9) scale(1 1.1)" font-size="22.5" text-anchor="middle" fill="#000" stroke="#000" stroke-width="0.45">20</text>
<line x1="1388.95" y1="671.9" x2="1388.95" y2="685.2" stroke="#000" stroke-width="3" stroke-linecap="butt"/>
<text transform="translate(1388.95 714.9) scale(1 1.1)" font-size="22.5" text-anchor="middle" fill="#000" stroke="#000" stroke-width="0.45">25</text>
<line x1="1436.49" y1="671.9" x2="1436.49" y2="685.2" stroke="#000" stroke-width="3" stroke-linecap="butt"/>
<text transform="translate(1436.49 714.9) scale(1 1.1)" font-size="22.5" text-anchor="middle" fill="#000" stroke="#000" stroke-width="0.45">30</text>
<line x1="1484.04" y1="671.9" x2="1484.04" y2="685.2" stroke="#000" stroke-width="3" stroke-linecap="butt"/>
<text transform="translate(1484.04 714.9) scale(1 1.1)" font-size="22.5" text-anchor="middle" fill="#000" stroke="#000" stroke-width="0.45">35</text>
<line x1="1531.58" y1="671.9" x2="1531.58" y2="685.2" stroke="#000" stroke-width="3" stroke-linecap="butt"/>
<text transform="translate(1531.58 714.9) scale(1 1.1)" font-size="22.5" text-anchor="middle" fill="#000" stroke="#000" stroke-width="0.45">40</text>
<line x1="1118.9" y1="671.9" x2="1132.2" y2="671.9" stroke="#000" stroke-width="3" stroke-linecap="butt"/>
<text transform="translate(1105.4 680.6) scale(1 1.08)" font-size="22.5" text-anchor="end" fill="#000" stroke="#000" stroke-width="0.45">0</text>
<line x1="1118.9" y1="539.09" x2="1132.2" y2="539.09" stroke="#000" stroke-width="3" stroke-linecap="butt"/>
<text transform="translate(1105.4 547.79) scale(1 1.08)" font-size="22.5" text-anchor="end" fill="#000" stroke="#000" stroke-width="0.45">50</text>
<text transform="translate(1341.4 750.1) scale(1 1.04)" font-size="22.5" text-anchor="middle" fill="#000" stroke="#000" stroke-width="0.45">Values</text>
<text transform="translate(1061 570.6) rotate(-90) scale(1 1.04)" font-size="22.5" text-anchor="middle" fill="#000" stroke="#000" stroke-width="0.45">Frequency</text>
<text transform="translate(1341.4 423.1) scale(1 1.04)" font-size="22.5" text-anchor="middle" fill="#000" stroke="#000" stroke-width="0.45">(External test set #6)</text>
<text transform="translate(1341.4 445.2) scale(1 1.04)" font-size="22.5" text-anchor="middle" fill="#000" stroke="#000" stroke-width="0.45">Median=37.100, IQR=88.800</text>
<clipPath id="c8"><rect x="1649" y="468.6" width="416.5" height="203.1"/></clipPath>
<g clip-path="url(#c8)">
<line x1="1667.93" y1="468.6" x2="1667.93" y2="671.7" stroke="#c2c2c2" stroke-width="1.3" stroke-linecap="butt"/>
<line x1="1715.26" y1="468.6" x2="1715.26" y2="671.7" stroke="#c2c2c2" stroke-width="1.3" stroke-linecap="butt"/>
<line x1="1762.59" y1="468.6" x2="1762.59" y2="671.7" stroke="#c2c2c2" stroke-width="1.3" stroke-linecap="butt"/>
<line x1="1809.92" y1="468.6" x2="1809.92" y2="671.7" stroke="#c2c2c2" stroke-width="1.3" stroke-linecap="butt"/>
<line x1="1857.25" y1="468.6" x2="1857.25" y2="671.7" stroke="#c2c2c2" stroke-width="1.3" stroke-linecap="butt"/>
<line x1="1904.58" y1="468.6" x2="1904.58" y2="671.7" stroke="#c2c2c2" stroke-width="1.3" stroke-linecap="butt"/>
<line x1="1951.91" y1="468.6" x2="1951.91" y2="671.7" stroke="#c2c2c2" stroke-width="1.3" stroke-linecap="butt"/>
<line x1="1999.24" y1="468.6" x2="1999.24" y2="671.7" stroke="#c2c2c2" stroke-width="1.3" stroke-linecap="butt"/>
<line x1="2046.57" y1="468.6" x2="2046.57" y2="671.7" stroke="#c2c2c2" stroke-width="1.3" stroke-linecap="butt"/>
<line x1="1649" y1="671.7" x2="2065.5" y2="671.7" stroke="#c2c2c2" stroke-width="1.3" stroke-linecap="butt"/>
<line x1="1649" y1="495.86" x2="2065.5" y2="495.86" stroke="#c2c2c2" stroke-width="1.3" stroke-linecap="butt"/>
<path d="M1667.93 671.7H1705.8V647.08H1667.93ZM1705.8 671.7H1743.66V611.91H1705.8ZM1743.66 671.7H1781.52V618.95H1743.66ZM1781.52 671.7H1819.39V629.5H1781.52ZM1819.39 671.7H1857.25V643.56H1819.39ZM1857.25 671.7H1895.11V657.63H1857.25ZM1895.11 671.7H1932.98V650.6H1895.11ZM1932.98 671.7H1970.84V654.12H1932.98ZM1970.84 671.7H2008.7V657.63H1970.84ZM2008.7 671.7H2046.57V478.27H2008.7Z" fill="#FFA500" fill-opacity="0.5"/>
<line x1="1768.27" y1="671.7" x2="1768.27" y2="468.6" stroke="#0000ff" stroke-width="1.9" stroke-linecap="butt" stroke-dasharray="7 3"/>
<rect x="1787.05" y="480" width="140.4" height="69.6" rx="4.5" fill="#fff" fill-opacity="0.8" stroke="#cccccc" stroke-width="3.4"/>
</g>
<rect x="1795.95" y="489.5" width="45" height="15" fill="#FFA500" fill-opacity="0.5"/>
<text transform="translate(1858.25 504.4) scale(1 1.04)" font-size="22.5" text-anchor="start" fill="#000" stroke="#000" stroke-width="0.45">Data2</text>
<line x1="1795.95" y1="528.5" x2="1840.95" y2="528.5" stroke="#0000ff" stroke-width="1.9" stroke-linecap="butt" stroke-dasharray="7 3"/>
<text transform="translate(1858.25 535.9) scale(1 1.04)" font-size="22.5" text-anchor="start" fill="#000" stroke="#000" stroke-width="0.45">Q1</text>
<rect x="1649" y="468.6" width="416.5" height="203.1" fill="none" stroke="#000" stroke-width="3"/>
<line x1="1667.93" y1="671.7" x2="1667.93" y2="685" stroke="#000" stroke-width="3" stroke-linecap="butt"/>
<text transform="translate(1667.93 714.7) scale(1 1.1)" font-size="22.5" text-anchor="middle" fill="#000" stroke="#000" stroke-width="0.45">0</text>
<line x1="1715.26" y1="671.7" x2="1715.26" y2="685" stroke="#000" stroke-width="3" stroke-linecap="butt"/>
<text transform="translate(1715.26 714.7) scale(1 1.1)" font-size="22.5" text-anchor="middle" fill="#000" stroke="#000" stroke-width="0.45">5</text>
<line x1="1762.59" y1="671.7" x2="1762.59" y2="685" stroke="#000" stroke-width="3" stroke-linecap="butt"/>
<text transform="translate(1762.59 714.7) scale(1 1.1)" font-size="22.5" text-anchor="middle" fill="#000" stroke="#000" stroke-width="0.45">10</text>
<line x1="1809.92" y1="671.7" x2="1809.92" y2="685" stroke="#000" stroke-width="3" stroke-linecap="butt"/>
<text transform="translate(1809.92 714.7) scale(1 1.1)" font-size="22.5" text-anchor="middle" fill="#000" stroke="#000" stroke-width="0.45">15</text>
<line x1="1857.25" y1="671.7" x2="1857.25" y2="685" stroke="#000" stroke-width="3" stroke-linecap="butt"/>
<text transform="translate(1857.25 714.7) scale(1 1.1)" font-size="22.5" text-anchor="middle" fill="#000" stroke="#000" stroke-width="0.45">20</text>
<line x1="1904.58" y1="671.7" x2="1904.58" y2="685" stroke="#000" stroke-width="3" stroke-linecap="butt"/>
<text transform="translate(1904.58 714.7) scale(1 1.1)" font-size="22.5" text-anchor="middle" fill="#000" stroke="#000" stroke-width="0.45">25</text>
<line x1="1951.91" y1="671.7" x2="1951.91" y2="685" stroke="#000" stroke-width="3" stroke-linecap="butt"/>
<text transform="translate(1951.91 714.7) scale(1 1.1)" font-size="22.5" text-anchor="middle" fill="#000" stroke="#000" stroke-width="0.45">30</text>
<line x1="1999.24" y1="671.7" x2="1999.24" y2="685" stroke="#000" stroke-width="3" stroke-linecap="butt"/>
<text transform="translate(1999.24 714.7) scale(1 1.1)" font-size="22.5" text-anchor="middle" fill="#000" stroke="#000" stroke-width="0.45">35</text>
<line x1="2046.57" y1="671.7" x2="2046.57" y2="685" stroke="#000" stroke-width="3" stroke-linecap="butt"/>
<text transform="translate(2046.57 714.7) scale(1 1.1)" font-size="22.5" text-anchor="middle" fill="#000" stroke="#000" stroke-width="0.45">40</text>
<line x1="1635.7" y1="671.7" x2="1649" y2="671.7" stroke="#000" stroke-width="3" stroke-linecap="butt"/>
<text transform="translate(1622.2 680.4) scale(1 1.08)" font-size="22.5" text-anchor="end" fill="#000" stroke="#000" stroke-width="0.45">0</text>
<line x1="1635.7" y1="495.86" x2="1649" y2="495.86" stroke="#000" stroke-width="3" stroke-linecap="butt"/>
<text transform="translate(1622.2 504.56) scale(1 1.08)" font-size="22.5" text-anchor="end" fill="#000" stroke="#000" stroke-width="0.45">50</text>
<text transform="translate(1857.25 749.9) scale(1 1.04)" font-size="22.5" text-anchor="middle" fill="#000" stroke="#000" stroke-width="0.45">Values</text>
<text transform="translate(1577.8 570.65) rotate(-90) scale(1 1.04)" font-size="22.5" text-anchor="middle" fill="#000" stroke="#000" stroke-width="0.45">Frequency</text>
<text transform="translate(1857.25 422.4) scale(1 1.04)" font-size="22.5" text-anchor="middle" fill="#000" stroke="#000" stroke-width="0.45">(External test set #7)</text>
<text transform="translate(1857.25 445.5) scale(1 1.04)" font-size="22.5" text-anchor="middle" fill="#000" stroke="#000" stroke-width="0.45">Median=27.600, IQR=90.380</text>
<clipPath id="c9"><rect x="99.6" y="869.9" width="418.3" height="203.8"/></clipPath>
<g clip-path="url(#c9)">
<line x1="114.77" y1="869.9" x2="114.77" y2="1073.7" stroke="#c2c2c2" stroke-width="1.3" stroke-linecap="butt"/>
<line x1="162.79" y1="869.9" x2="162.79" y2="1073.7" stroke="#c2c2c2" stroke-width="1.3" stroke-linecap="butt"/>
<line x1="210.8" y1="869.9" x2="210.8" y2="1073.7" stroke="#c2c2c2" stroke-width="1.3" stroke-linecap="butt"/>
<line x1="258.82" y1="869.9" x2="258.82" y2="1073.7" stroke="#c2c2c2" stroke-width="1.3" stroke-linecap="butt"/>
<line x1="306.83" y1="869.9" x2="306.83" y2="1073.7" stroke="#c2c2c2" stroke-width="1.3" stroke-linecap="butt"/>
<line x1="354.84" y1="869.9" x2="354.84" y2="1073.7" stroke="#c2c2c2" stroke-width="1.3" stroke-linecap="butt"/>
<line x1="402.86" y1="869.9" x2="402.86" y2="1073.7" stroke="#c2c2c2" stroke-width="1.3" stroke-linecap="butt"/>
<line x1="450.87" y1="869.9" x2="450.87" y2="1073.7" stroke="#c2c2c2" stroke-width="1.3" stroke-linecap="butt"/>
<line x1="498.89" y1="869.9" x2="498.89" y2="1073.7" stroke="#c2c2c2" stroke-width="1.3" stroke-linecap="butt"/>
<line x1="99.6" y1="1073.7" x2="517.9" y2="1073.7" stroke="#c2c2c2" stroke-width="1.3" stroke-linecap="butt"/>
<line x1="99.6" y1="961.18" x2="517.9" y2="961.18" stroke="#c2c2c2" stroke-width="1.3" stroke-linecap="butt"/>
<path d="M118.61 1073.7H156.64V1020.59H118.61ZM156.64 1073.7H194.67V879.6H156.64ZM194.67 1073.7H232.7V937.61H194.67ZM232.7 1073.7H270.72V1017.89H232.7ZM270.72 1073.7H308.75V1043.38H270.72ZM308.75 1073.7H346.78V1050.07H308.75ZM346.78 1073.7H384.8V1065.09H346.78ZM384.8 1073.7H422.83V1064.02H384.8ZM422.83 1073.7H460.86V1065.37H422.83ZM460.86 1073.7H498.89V1050.07H460.86Z" fill="#FFA500" fill-opacity="0.5"/>
<line x1="173.64" y1="1073.7" x2="173.64" y2="869.9" stroke="#0000ff" stroke-width="1.9" stroke-linecap="butt" stroke-dasharray="7 3"/>
<line x1="249.5" y1="1073.7" x2="249.5" y2="869.9" stroke="#008000" stroke-width="1.9" stroke-linecap="butt" stroke-dasharray="7 3"/>
<rect x="365.7" y="881.3" width="140.4" height="101.5" rx="4.5" fill="#fff" fill-opacity="0.8" stroke="#cccccc" stroke-width="3.4"/>
</g>
<rect x="374.6" y="890.8" width="45" height="15" fill="#FFA500" fill-opacity="0.5"/>
<text transform="translate(436.9 905.7) scale(1 1.04)" font-size="22.5" text-anchor="start" fill="#000" stroke="#000" stroke-width="0.45">Data2</text>
<line x1="374.6" y1="929.8" x2="419.6" y2="929.8" stroke="#0000ff" stroke-width="1.9" stroke-linecap="butt" stroke-dasharray="7 3"/>
<text transform="translate(436.9 937.2) scale(1 1.04)" font-size="22.5" text-anchor="start" fill="#000" stroke="#000" stroke-width="0.45">Q1</text>
<line x1="374.6" y1="961.6" x2="419.6" y2="961.6" stroke="#008000" stroke-width="1.9" stroke-linecap="butt" stroke-dasharray="7 3"/>
<text transform="translate(436.9 968.8) scale(1 1.04)" font-size="22.5" text-anchor="start" fill="#000" stroke="#000" stroke-width="0.45">Q3</text>
<rect x="99.6" y="869.9" width="418.3" height="203.8" fill="none" stroke="#000" stroke-width="3"/>
<line x1="114.77" y1="1073.7" x2="114.77" y2="1087" stroke="#000" stroke-width="3" stroke-linecap="butt"/>
<text transform="translate(114.77 1116.7) scale(1 1.1)" font-size="22.5" text-anchor="middle" fill="#000" stroke="#000" stroke-width="0.45">0</text>
<line x1="162.79" y1="1073.7" x2="162.79" y2="1087" stroke="#000" stroke-width="3" stroke-linecap="butt"/>
<text transform="translate(162.79 1116.7) scale(1 1.1)" font-size="22.5" text-anchor="middle" fill="#000" stroke="#000" stroke-width="0.45">5</text>
<line x1="210.8" y1="1073.7" x2="210.8" y2="1087" stroke="#000" stroke-width="3" stroke-linecap="butt"/>
<text transform="translate(210.8 1116.7) scale(1 1.1)" font-size="22.5" text-anchor="middle" fill="#000" stroke="#000" stroke-width="0.45">10</text>
<line x1="258.82" y1="1073.7" x2="258.82" y2="1087" stroke="#000" stroke-width="3" stroke-linecap="butt"/>
<text transform="translate(258.82 1116.7) scale(1 1.1)" font-size="22.5" text-anchor="middle" fill="#000" stroke="#000" stroke-width="0.45">15</text>
<line x1="306.83" y1="1073.7" x2="306.83" y2="1087" stroke="#000" stroke-width="3" stroke-linecap="butt"/>
<text transform="translate(306.83 1116.7) scale(1 1.1)" font-size="22.5" text-anchor="middle" fill="#000" stroke="#000" stroke-width="0.45">20</text>
<line x1="354.84" y1="1073.7" x2="354.84" y2="1087" stroke="#000" stroke-width="3" stroke-linecap="butt"/>
<text transform="translate(354.84 1116.7) scale(1 1.1)" font-size="22.5" text-anchor="middle" fill="#000" stroke="#000" stroke-width="0.45">25</text>
<line x1="402.86" y1="1073.7" x2="402.86" y2="1087" stroke="#000" stroke-width="3" stroke-linecap="butt"/>
<text transform="translate(402.86 1116.7) scale(1 1.1)" font-size="22.5" text-anchor="middle" fill="#000" stroke="#000" stroke-width="0.45">30</text>
<line x1="450.87" y1="1073.7" x2="450.87" y2="1087" stroke="#000" stroke-width="3" stroke-linecap="butt"/>
<text transform="translate(450.87 1116.7) scale(1 1.1)" font-size="22.5" text-anchor="middle" fill="#000" stroke="#000" stroke-width="0.45">35</text>
<line x1="498.89" y1="1073.7" x2="498.89" y2="1087" stroke="#000" stroke-width="3" stroke-linecap="butt"/>
<text transform="translate(498.89 1116.7) scale(1 1.1)" font-size="22.5" text-anchor="middle" fill="#000" stroke="#000" stroke-width="0.45">40</text>
<line x1="86.3" y1="1073.7" x2="99.6" y2="1073.7" stroke="#000" stroke-width="3" stroke-linecap="butt"/>
<text transform="translate(72.8 1082.4) scale(1 1.08)" font-size="22.5" text-anchor="end" fill="#000" stroke="#000" stroke-width="0.45">0</text>
<line x1="86.3" y1="961.18" x2="99.6" y2="961.18" stroke="#000" stroke-width="3" stroke-linecap="butt"/>
<text transform="translate(72.8 969.88) scale(1 1.08)" font-size="22.5" text-anchor="end" fill="#000" stroke="#000" stroke-width="0.45">200</text>
<text transform="translate(308.75 1151.9) scale(1 1.04)" font-size="22.5" text-anchor="middle" fill="#000" stroke="#000" stroke-width="0.45">Values</text>
<text transform="translate(16.2 972.3) rotate(-90) scale(1 1.04)" font-size="22.5" text-anchor="middle" fill="#000" stroke="#000" stroke-width="0.45">Frequency</text>
<text transform="translate(308.75 824) scale(1 1.04)" font-size="22.5" text-anchor="middle" fill="#000" stroke="#000" stroke-width="0.45">(PI-CAI set)</text>
<text transform="translate(308.75 847.3) scale(1 1.04)" font-size="22.5" text-anchor="middle" fill="#000" stroke="#000" stroke-width="0.45">Median=9.000, IQR=7.900</text>
<clipPath id="c10"><rect x="610.3" y="870.9" width="418.2" height="203.5"/></clipPath>
<g clip-path="url(#c10)">
<line x1="629.31" y1="870.9" x2="629.31" y2="1074.4" stroke="#c2c2c2" stroke-width="1.3" stroke-linecap="butt"/>
<line x1="676.83" y1="870.9" x2="676.83" y2="1074.4" stroke="#c2c2c2" stroke-width="1.3" stroke-linecap="butt"/>
<line x1="724.35" y1="870.9" x2="724.35" y2="1074.4" stroke="#c2c2c2" stroke-width="1.3" stroke-linecap="butt"/>
<line x1="771.88" y1="870.9" x2="771.88" y2="1074.4" stroke="#c2c2c2" stroke-width="1.3" stroke-linecap="butt"/>
<line x1="819.4" y1="870.9" x2="819.4" y2="1074.4" stroke="#c2c2c2" stroke-width="1.3" stroke-linecap="butt"/>
<line x1="866.92" y1="870.9" x2="866.92" y2="1074.4" stroke="#c2c2c2" stroke-width="1.3" stroke-linecap="butt"/>
<line x1="914.45" y1="870.9" x2="914.45" y2="1074.4" stroke="#c2c2c2" stroke-width="1.3" stroke-linecap="butt"/>
<line x1="961.97" y1="870.9" x2="961.97" y2="1074.4" stroke="#c2c2c2" stroke-width="1.3" stroke-linecap="butt"/>
<line x1="1009.49" y1="870.9" x2="1009.49" y2="1074.4" stroke="#c2c2c2" stroke-width="1.3" stroke-linecap="butt"/>
<line x1="610.3" y1="1074.4" x2="1028.5" y2="1074.4" stroke="#c2c2c2" stroke-width="1.3" stroke-linecap="butt"/>
<line x1="610.3" y1="935.96" x2="1028.5" y2="935.96" stroke="#c2c2c2" stroke-width="1.3" stroke-linecap="butt"/>
<path d="M629.31 1074.4H667.33V998.26H629.31ZM667.33 1074.4H705.35V922.12H667.33ZM705.35 1074.4H743.36V880.59H705.35ZM743.36 1074.4H781.38V1025.95H743.36ZM781.38 1074.4H819.4V1032.87H781.38ZM819.4 1074.4H857.42V1025.95H819.4ZM857.42 1074.4H895.44V1046.71H857.42ZM895.44 1074.4H933.45V1053.63H895.44ZM971.47 1074.4H1009.49V991.34H971.47Z" fill="#FFA500" fill-opacity="0.5"/>
<line x1="692.42" y1="1074.4" x2="692.42" y2="870.9" stroke="#0000ff" stroke-width="1.9" stroke-linecap="butt" stroke-dasharray="7 3"/>
<line x1="820.64" y1="1074.4" x2="820.64" y2="870.9" stroke="#008000" stroke-width="1.9" stroke-linecap="butt" stroke-dasharray="7 3"/>
<rect x="876.3" y="882.3" width="140.4" height="101.5" rx="4.5" fill="#fff" fill-opacity="0.8" stroke="#cccccc" stroke-width="3.4"/>
</g>
<rect x="885.2" y="891.8" width="45" height="15" fill="#FFA500" fill-opacity="0.5"/>
<text transform="translate(947.5 906.7) scale(1 1.04)" font-size="22.5" text-anchor="start" fill="#000" stroke="#000" stroke-width="0.45">Data2</text>
<line x1="885.2" y1="930.8" x2="930.2" y2="930.8" stroke="#0000ff" stroke-width="1.9" stroke-linecap="butt" stroke-dasharray="7 3"/>
<text transform="translate(947.5 938.2) scale(1 1.04)" font-size="22.5" text-anchor="start" fill="#000" stroke="#000" stroke-width="0.45">Q1</text>
<line x1="885.2" y1="962.6" x2="930.2" y2="962.6" stroke="#008000" stroke-width="1.9" stroke-linecap="butt" stroke-dasharray="7 3"/>
<text transform="translate(947.5 969.8) scale(1 1.04)" font-size="22.5" text-anchor="start" fill="#000" stroke="#000" stroke-width="0.45">Q3</text>
<rect x="610.3" y="870.9" width="418.2" height="203.5" fill="none" stroke="#000" stroke-width="3"/>
<line x1="629.31" y1="1074.4" x2="629.31" y2="1087.7" stroke="#000" stroke-width="3" stroke-linecap="butt"/>
<text transform="translate(629.31 1117.4) scale(1 1.1)" font-size="22.5" text-anchor="middle" fill="#000" stroke="#000" stroke-width="0.45">0</text>
<line x1="676.83" y1="1074.4" x2="676.83" y2="1087.7" stroke="#000" stroke-width="3" stroke-linecap="butt"/>
<text transform="translate(676.83 1117.4) scale(1 1.1)" font-size="22.5" text-anchor="middle" fill="#000" stroke="#000" stroke-width="0.45">5</text>
<line x1="724.35" y1="1074.4" x2="724.35" y2="1087.7" stroke="#000" stroke-width="3" stroke-linecap="butt"/>
<text transform="translate(724.35 1117.4) scale(1 1.1)" font-size="22.5" text-anchor="middle" fill="#000" stroke="#000" stroke-width="0.45">10</text>
<line x1="771.88" y1="1074.4" x2="771.88" y2="1087.7" stroke="#000" stroke-width="3" stroke-linecap="butt"/>
<text transform="translate(771.88 1117.4) scale(1 1.1)" font-size="22.5" text-anchor="middle" fill="#000" stroke="#000" stroke-width="0.45">15</text>
<line x1="819.4" y1="1074.4" x2="819.4" y2="1087.7" stroke="#000" stroke-width="3" stroke-linecap="butt"/>
<text transform="translate(819.4 1117.4) scale(1 1.1)" font-size="22.5" text-anchor="middle" fill="#000" stroke="#000" stroke-width="0.45">20</text>
<line x1="866.92" y1="1074.4" x2="866.92" y2="1087.7" stroke="#000" stroke-width="3" stroke-linecap="butt"/>
<text transform="translate(866.92 1117.4) scale(1 1.1)" font-size="22.5" text-anchor="middle" fill="#000" stroke="#000" stroke-width="0.45">25</text>
<line x1="914.45" y1="1074.4" x2="914.45" y2="1087.7" stroke="#000" stroke-width="3" stroke-linecap="butt"/>
<text transform="translate(914.45 1117.4) scale(1 1.1)" font-size="22.5" text-anchor="middle" fill="#000" stroke="#000" stroke-width="0.45">30</text>
<line x1="961.97" y1="1074.4" x2="961.97" y2="1087.7" stroke="#000" stroke-width="3" stroke-linecap="butt"/>
<text transform="translate(961.97 1117.4) scale(1 1.1)" font-size="22.5" text-anchor="middle" fill="#000" stroke="#000" stroke-width="0.45">35</text>
<line x1="1009.49" y1="1074.4" x2="1009.49" y2="1087.7" stroke="#000" stroke-width="3" stroke-linecap="butt"/>
<text transform="translate(1009.49 1117.4) scale(1 1.1)" font-size="22.5" text-anchor="middle" fill="#000" stroke="#000" stroke-width="0.45">40</text>
<line x1="597" y1="1074.4" x2="610.3" y2="1074.4" stroke="#000" stroke-width="3" stroke-linecap="butt"/>
<text transform="translate(583.5 1083.1) scale(1 1.08)" font-size="22.5" text-anchor="end" fill="#000" stroke="#000" stroke-width="0.45">0</text>
<line x1="597" y1="935.96" x2="610.3" y2="935.96" stroke="#000" stroke-width="3" stroke-linecap="butt"/>
<text transform="translate(583.5 944.66) scale(1 1.08)" font-size="22.5" text-anchor="end" fill="#000" stroke="#000" stroke-width="0.45">20</text>
<text transform="translate(819.4 1152.6) scale(1 1.04)" font-size="22.5" text-anchor="middle" fill="#000" stroke="#000" stroke-width="0.45">Values</text>
<text transform="translate(539.1 973.15) rotate(-90) scale(1 1.04)" font-size="22.5" text-anchor="middle" fill="#000" stroke="#000" stroke-width="0.45">Frequency</text>
<text transform="translate(819.4 825.3) scale(1 1.04)" font-size="22.5" text-anchor="middle" fill="#000" stroke="#000" stroke-width="0.45">(Prospective test set)</text>
<text transform="translate(819.4 848.4) scale(1 1.04)" font-size="22.5" text-anchor="middle" fill="#000" stroke="#000" stroke-width="0.45">Median=9.826, IQR=13.487</text>
<clipPath id="r1"><rect x="106.1" y="1298.5" width="360.5" height="350.8"/></clipPath>
<g clip-path="url(#r1)">
<path d="M122.49 1615.93L129.7 1314.45L450.21 1314.45L450.21 1314.45L428.58 1337.46L421.05 1359.16L408.26 1374.28L398.43 1383.82L385.65 1388.09L376.15 1393.35L365.33 1397.62L350.26 1407.49L341.74 1417.02L331.9 1423.6L320.11 1427.87L303.06 1437.41L292.25 1441.68L264.39 1460.09L253.58 1466.67L245.06 1482.78L233.26 1544.91L225.72 1551.49L208.68 1575.16L186.07 1584.7L180.49 1585.68L165.75 1620.2L160.17 1623.49L144.12 1623.49L130.68 1633.03L122.49 1633.03Z" fill="#d1d1d1"/>
<path d="M122.49 1615.93L129.7 1314.45L450.21 1314.45" fill="none" stroke="#111" stroke-width="2.8" stroke-linejoin="round"/>
<path d="M122.49 1633.03L130.68 1633.03L144.12 1623.49L160.17 1623.49L165.75 1620.2L180.49 1585.68L186.07 1584.7L208.68 1575.16L225.72 1551.49L233.26 1544.91L245.06 1482.78L253.58 1466.67L264.39 1460.09L292.25 1441.68L303.06 1437.41L320.11 1427.87L331.9 1423.6L341.74 1417.02L350.26 1407.49L365.33 1397.62L376.15 1393.35L385.65 1388.09L398.43 1383.82L408.26 1374.28L421.05 1359.16L428.58 1337.46L450.21 1314.45" fill="none" stroke="#111" stroke-width="2.8" stroke-dasharray="10.4 4.1" stroke-linejoin="round"/>
<rect x="231" y="1593" width="227.8" height="48.6" rx="3.5" fill="#fff" fill-opacity="0.8" stroke="#cccccc" stroke-width="3.2"/>
</g>
<text transform="translate(155.26 1380.2) scale(1 1.04)" font-size="15.5" text-anchor="start" fill="#000" stroke="#000" stroke-width="0.45">Area difference = 0.477</text>
<line x1="236.1" y1="1604.9" x2="270" y2="1604.9" stroke="#111" stroke-width="2.8" stroke-linecap="butt"/>
<text transform="translate(280.5 1610.6) scale(1 1.04)" font-size="15.5" text-anchor="start" fill="#000" stroke="#000" stroke-width="0.45">MRI-PTPCa, AUC=0.990</text>
<line x1="236.8" y1="1627.1" x2="269.3" y2="1627.1" stroke="#111" stroke-width="2.8" stroke-linecap="butt" stroke-dasharray="10.4 4.1"/>
<text transform="translate(280.5 1632.3) scale(1 1.04)" font-size="15.5" text-anchor="start" fill="#000" stroke="#000" stroke-width="0.45">PSA</text>
<text transform="translate(363.5 1632.3) scale(1 1.04)" font-size="15.5" text-anchor="start" fill="#000" stroke="#000" stroke-width="0.45">, AUC=0.513</text>
<rect x="106.1" y="1298.5" width="360.5" height="350.8" fill="none" stroke="#000" stroke-width="3"/>
<line x1="122.49" y1="1649.3" x2="122.49" y2="1658.3" stroke="#000" stroke-width="3" stroke-linecap="butt"/>
<text transform="translate(122.49 1678.4) scale(1 1.12)" font-size="15.5" text-anchor="middle" fill="#000" stroke="#000" stroke-width="0.45">0.0</text>
<line x1="188.03" y1="1649.3" x2="188.03" y2="1658.3" stroke="#000" stroke-width="3" stroke-linecap="butt"/>
<text transform="translate(188.03 1678.4) scale(1 1.12)" font-size="15.5" text-anchor="middle" fill="#000" stroke="#000" stroke-width="0.45">0.2</text>
<line x1="253.58" y1="1649.3" x2="253.58" y2="1658.3" stroke="#000" stroke-width="3" stroke-linecap="butt"/>
<text transform="translate(253.58 1678.4) scale(1 1.12)" font-size="15.5" text-anchor="middle" fill="#000" stroke="#000" stroke-width="0.45">0.4</text>
<line x1="319.12" y1="1649.3" x2="319.12" y2="1658.3" stroke="#000" stroke-width="3" stroke-linecap="butt"/>
<text transform="translate(319.12 1678.4) scale(1 1.12)" font-size="15.5" text-anchor="middle" fill="#000" stroke="#000" stroke-width="0.45">0.6</text>
<line x1="384.67" y1="1649.3" x2="384.67" y2="1658.3" stroke="#000" stroke-width="3" stroke-linecap="butt"/>
<text transform="translate(384.67 1678.4) scale(1 1.12)" font-size="15.5" text-anchor="middle" fill="#000" stroke="#000" stroke-width="0.45">0.8</text>
<line x1="450.21" y1="1649.3" x2="450.21" y2="1658.3" stroke="#000" stroke-width="3" stroke-linecap="butt"/>
<text transform="translate(450.21 1678.4) scale(1 1.12)" font-size="15.5" text-anchor="middle" fill="#000" stroke="#000" stroke-width="0.45">1.0</text>
<line x1="97.1" y1="1643.22" x2="106.1" y2="1643.22" stroke="#000" stroke-width="3" stroke-linecap="butt"/>
<text transform="translate(87.4 1648.72) scale(1 1.12)" font-size="15.5" text-anchor="end" fill="#000" stroke="#000" stroke-width="0.45">0.0</text>
<line x1="97.1" y1="1577.46" x2="106.1" y2="1577.46" stroke="#000" stroke-width="3" stroke-linecap="butt"/>
<text transform="translate(87.4 1582.96) scale(1 1.12)" font-size="15.5" text-anchor="end" fill="#000" stroke="#000" stroke-width="0.45">0.2</text>
<line x1="97.1" y1="1511.71" x2="106.1" y2="1511.71" stroke="#000" stroke-width="3" stroke-linecap="butt"/>
<text transform="translate(87.4 1517.21) scale(1 1.12)" font-size="15.5" text-anchor="end" fill="#000" stroke="#000" stroke-width="0.45">0.4</text>
<line x1="97.1" y1="1445.95" x2="106.1" y2="1445.95" stroke="#000" stroke-width="3" stroke-linecap="butt"/>
<text transform="translate(87.4 1451.45) scale(1 1.12)" font-size="15.5" text-anchor="end" fill="#000" stroke="#000" stroke-width="0.45">0.6</text>
<line x1="97.1" y1="1380.2" x2="106.1" y2="1380.2" stroke="#000" stroke-width="3" stroke-linecap="butt"/>
<text transform="translate(87.4 1385.7) scale(1 1.12)" font-size="15.5" text-anchor="end" fill="#000" stroke="#000" stroke-width="0.45">0.8</text>
<line x1="97.1" y1="1314.45" x2="106.1" y2="1314.45" stroke="#000" stroke-width="3" stroke-linecap="butt"/>
<text transform="translate(87.4 1319.95) scale(1 1.12)" font-size="15.5" text-anchor="end" fill="#000" stroke="#000" stroke-width="0.45">1.0</text>
<text transform="translate(286.35 1703.8) scale(1 1.04)" font-size="15.5" text-anchor="middle" fill="#000" stroke="#000" stroke-width="0.45">1-Specificity</text>
<text transform="translate(53.6 1473.9) rotate(-90) scale(1 1.04)" font-size="15.5" text-anchor="middle" fill="#000" stroke="#000" stroke-width="0.45">Sensitivity</text>
<text transform="translate(282.3 1260.8) scale(1 1.04)" font-size="22.5" text-anchor="middle" fill="#000" stroke="#000" stroke-width="0.45">(External test set #1)</text>
<text transform="translate(284.2 1290.8) scale(1 1.04)" font-size="22.5" text-anchor="middle" fill="#000" stroke="#000" stroke-width="0.45">p&lt;0.001</text>
<clipPath id="r2"><rect x="604.2" y="1298.5" width="360.7" height="350.8"/></clipPath>
<g clip-path="url(#r2)">
<path d="M620.6 1593.23L620.6 1450.58L621.58 1444.07L629.78 1428.98L630.1 1317.53L948.5 1314.45L948.5 1314.45L935.06 1321.65L924.24 1326.79L919.98 1334.33L913.42 1341.88L903.91 1344.96L895.06 1348.39L887.51 1354.91L881.28 1358L871.45 1364.51L863.9 1371.03L855.38 1377.2L848.82 1381.66L840.29 1383.71L832.75 1386.11L828.49 1395.72L823.24 1400.86L816.69 1409.43L807.18 1411.83L799.63 1421.43L793.08 1425.55L786.52 1428.98L782.25 1436.52L773.73 1441.67L766.19 1445.1L758.65 1453.67L751.1 1454.7L744.87 1465.33L739.3 1472.87L727.49 1481.44L722.25 1484.87L715.69 1494.47L707.16 1497.56L698.64 1509.56L693.06 1511.62L692.08 1515.05L685.52 1526.71L679.29 1532.2L676.01 1540.77L668.47 1548.31L666.17 1555.86L660.93 1561L653.39 1562.03L643.88 1577.12L642.57 1589.12L637.32 1590.15L629.78 1605.24L624.53 1615.87L620.6 1634.04Z" fill="#d1d1d1"/>
<path d="M620.6 1593.23L620.6 1450.58L621.58 1444.07L629.78 1428.98L630.1 1317.53L948.5 1314.45" fill="none" stroke="#111" stroke-width="2.8" stroke-linejoin="round"/>
<path d="M620.6 1634.04L624.53 1615.87L629.78 1605.24L637.32 1590.15L642.57 1589.12L643.88 1577.12L653.39 1562.03L660.93 1561L666.17 1555.86L668.47 1548.31L676.01 1540.77L679.29 1532.2L685.52 1526.71L692.08 1515.05L693.06 1511.62L698.64 1509.56L707.16 1497.56L715.69 1494.47L722.25 1484.87L727.49 1481.44L739.3 1472.87L744.87 1465.33L751.1 1454.7L758.65 1453.67L766.19 1445.1L773.73 1441.67L782.25 1436.52L786.52 1428.98L793.08 1425.55L799.63 1421.43L807.18 1411.83L816.69 1409.43L823.24 1400.86L828.49 1395.72L832.75 1386.11L840.29 1383.71L848.82 1381.66L855.38 1377.2L863.9 1371.03L871.45 1364.51L881.28 1358L887.51 1354.91L895.06 1348.39L903.91 1344.96L913.42 1341.88L919.98 1334.33L924.24 1326.79L935.06 1321.65L948.5 1314.45" fill="none" stroke="#111" stroke-width="2.8" stroke-dasharray="10.4 4.1" stroke-linejoin="round"/>
<rect x="729.3" y="1593" width="227.8" height="48.6" rx="3.5" fill="#fff" fill-opacity="0.8" stroke="#cccccc" stroke-width="3.2"/>
</g>
<text transform="translate(653.39 1383.03) scale(1 1.04)" font-size="15.5" text-anchor="start" fill="#000" stroke="#000" stroke-width="0.45">Area difference = 0.354</text>
<line x1="734.4" y1="1604.9" x2="768.3" y2="1604.9" stroke="#111" stroke-width="2.8" stroke-linecap="butt"/>
<text transform="translate(778.8 1610.6) scale(1 1.04)" font-size="15.5" text-anchor="start" fill="#000" stroke="#000" stroke-width="0.45">MRI-PTPCa, AUC=0.983</text>
<line x1="735.1" y1="1627.1" x2="767.6" y2="1627.1" stroke="#111" stroke-width="2.8" stroke-linecap="butt" stroke-dasharray="10.4 4.1"/>
<text transform="translate(778.8 1632.3) scale(1 1.04)" font-size="15.5" text-anchor="start" fill="#000" stroke="#000" stroke-width="0.45">PSA</text>
<text transform="translate(861.8 1632.3) scale(1 1.04)" font-size="15.5" text-anchor="start" fill="#000" stroke="#000" stroke-width="0.45">, AUC=0.628</text>
<rect x="604.2" y="1298.5" width="360.7" height="350.8" fill="none" stroke="#000" stroke-width="3"/>
<line x1="620.6" y1="1649.3" x2="620.6" y2="1658.3" stroke="#000" stroke-width="3" stroke-linecap="butt"/>
<text transform="translate(620.6 1678.4) scale(1 1.12)" font-size="15.5" text-anchor="middle" fill="#000" stroke="#000" stroke-width="0.45">0.0</text>
<line x1="686.18" y1="1649.3" x2="686.18" y2="1658.3" stroke="#000" stroke-width="3" stroke-linecap="butt"/>
<text transform="translate(686.18 1678.4) scale(1 1.12)" font-size="15.5" text-anchor="middle" fill="#000" stroke="#000" stroke-width="0.45">0.2</text>
<line x1="751.76" y1="1649.3" x2="751.76" y2="1658.3" stroke="#000" stroke-width="3" stroke-linecap="butt"/>
<text transform="translate(751.76 1678.4) scale(1 1.12)" font-size="15.5" text-anchor="middle" fill="#000" stroke="#000" stroke-width="0.45">0.4</text>
<line x1="817.34" y1="1649.3" x2="817.34" y2="1658.3" stroke="#000" stroke-width="3" stroke-linecap="butt"/>
<text transform="translate(817.34 1678.4) scale(1 1.12)" font-size="15.5" text-anchor="middle" fill="#000" stroke="#000" stroke-width="0.45">0.6</text>
<line x1="882.92" y1="1649.3" x2="882.92" y2="1658.3" stroke="#000" stroke-width="3" stroke-linecap="butt"/>
<text transform="translate(882.92 1678.4) scale(1 1.12)" font-size="15.5" text-anchor="middle" fill="#000" stroke="#000" stroke-width="0.45">0.8</text>
<line x1="948.5" y1="1649.3" x2="948.5" y2="1658.3" stroke="#000" stroke-width="3" stroke-linecap="butt"/>
<text transform="translate(948.5 1678.4) scale(1 1.12)" font-size="15.5" text-anchor="middle" fill="#000" stroke="#000" stroke-width="0.45">1.0</text>
<line x1="595.2" y1="1588.78" x2="604.2" y2="1588.78" stroke="#000" stroke-width="3" stroke-linecap="butt"/>
<text transform="translate(585.5 1594.28) scale(1 1.12)" font-size="15.5" text-anchor="end" fill="#000" stroke="#000" stroke-width="0.45">0.2</text>
<line x1="595.2" y1="1520.19" x2="604.2" y2="1520.19" stroke="#000" stroke-width="3" stroke-linecap="butt"/>
<text transform="translate(585.5 1525.69) scale(1 1.12)" font-size="15.5" text-anchor="end" fill="#000" stroke="#000" stroke-width="0.45">0.4</text>
<line x1="595.2" y1="1451.61" x2="604.2" y2="1451.61" stroke="#000" stroke-width="3" stroke-linecap="butt"/>
<text transform="translate(585.5 1457.11) scale(1 1.12)" font-size="15.5" text-anchor="end" fill="#000" stroke="#000" stroke-width="0.45">0.6</text>
<line x1="595.2" y1="1383.03" x2="604.2" y2="1383.03" stroke="#000" stroke-width="3" stroke-linecap="butt"/>
<text transform="translate(585.5 1388.53) scale(1 1.12)" font-size="15.5" text-anchor="end" fill="#000" stroke="#000" stroke-width="0.45">0.8</text>
<line x1="595.2" y1="1314.45" x2="604.2" y2="1314.45" stroke="#000" stroke-width="3" stroke-linecap="butt"/>
<text transform="translate(585.5 1319.95) scale(1 1.12)" font-size="15.5" text-anchor="end" fill="#000" stroke="#000" stroke-width="0.45">1.0</text>
<text transform="translate(784.55 1703.8) scale(1 1.04)" font-size="15.5" text-anchor="middle" fill="#000" stroke="#000" stroke-width="0.45">1-Specificity</text>
<text transform="translate(551.7 1473.9) rotate(-90) scale(1 1.04)" font-size="15.5" text-anchor="middle" fill="#000" stroke="#000" stroke-width="0.45">Sensitivity</text>
<text transform="translate(782 1269.1) scale(1 1.04)" font-size="22.5" text-anchor="middle" fill="#000" stroke="#000" stroke-width="0.45">(External test set #2)</text>
<text transform="translate(782 1291.4) scale(1 1.04)" font-size="22.5" text-anchor="middle" fill="#000" stroke="#000" stroke-width="0.45">p&lt;0.001</text>
<clipPath id="r3"><rect x="1102.7" y="1298.5" width="360.7" height="350.8"/></clipPath>
<g clip-path="url(#r3)">
<path d="M1119.1 1633.35L1133.2 1314.45L1447 1314.45L1447 1314.45L1379.13 1329.12L1228.62 1402.15L1133.2 1460.19L1119.1 1633.35Z" fill="#d1d1d1"/>
<path d="M1119.1 1633.35L1133.2 1314.45L1447 1314.45" fill="none" stroke="#111" stroke-width="2.8" stroke-linejoin="round"/>
<path d="M1119.1 1633.35L1133.2 1460.19L1228.62 1402.15L1379.13 1329.12L1447 1314.45" fill="none" stroke="#111" stroke-width="2.8" stroke-dasharray="10.4 4.1" stroke-linejoin="round"/>
<rect x="1227.8" y="1593" width="227.8" height="48.6" rx="3.5" fill="#fff" fill-opacity="0.8" stroke="#cccccc" stroke-width="3.2"/>
</g>
<text transform="translate(1151.89 1378.23) scale(1 1.04)" font-size="15.5" text-anchor="start" fill="#000" stroke="#000" stroke-width="0.45">Area difference = 0.193</text>
<line x1="1232.9" y1="1604.9" x2="1266.8" y2="1604.9" stroke="#111" stroke-width="2.8" stroke-linecap="butt"/>
<text transform="translate(1277.3 1610.6) scale(1 1.04)" font-size="15.5" text-anchor="start" fill="#000" stroke="#000" stroke-width="0.45">MRI-PTPCa, AUC=0.979</text>
<line x1="1233.6" y1="1627.1" x2="1266.1" y2="1627.1" stroke="#111" stroke-width="2.8" stroke-linecap="butt" stroke-dasharray="10.4 4.1"/>
<text transform="translate(1277.3 1632.3) scale(1 1.04)" font-size="15.5" text-anchor="start" fill="#000" stroke="#000" stroke-width="0.45">PI-RADS, AUC=0.786</text>
<rect x="1102.7" y="1298.5" width="360.7" height="350.8" fill="none" stroke="#000" stroke-width="3"/>
<line x1="1119.1" y1="1649.3" x2="1119.1" y2="1658.3" stroke="#000" stroke-width="3" stroke-linecap="butt"/>
<text transform="translate(1119.1 1678.4) scale(1 1.12)" font-size="15.5" text-anchor="middle" fill="#000" stroke="#000" stroke-width="0.45">0.0</text>
<line x1="1184.68" y1="1649.3" x2="1184.68" y2="1658.3" stroke="#000" stroke-width="3" stroke-linecap="butt"/>
<text transform="translate(1184.68 1678.4) scale(1 1.12)" font-size="15.5" text-anchor="middle" fill="#000" stroke="#000" stroke-width="0.45">0.2</text>
<line x1="1250.26" y1="1649.3" x2="1250.26" y2="1658.3" stroke="#000" stroke-width="3" stroke-linecap="butt"/>
<text transform="translate(1250.26 1678.4) scale(1 1.12)" font-size="15.5" text-anchor="middle" fill="#000" stroke="#000" stroke-width="0.45">0.4</text>
<line x1="1315.84" y1="1649.3" x2="1315.84" y2="1658.3" stroke="#000" stroke-width="3" stroke-linecap="butt"/>
<text transform="translate(1315.84 1678.4) scale(1 1.12)" font-size="15.5" text-anchor="middle" fill="#000" stroke="#000" stroke-width="0.45">0.6</text>
<line x1="1381.42" y1="1649.3" x2="1381.42" y2="1658.3" stroke="#000" stroke-width="3" stroke-linecap="butt"/>
<text transform="translate(1381.42 1678.4) scale(1 1.12)" font-size="15.5" text-anchor="middle" fill="#000" stroke="#000" stroke-width="0.45">0.8</text>
<line x1="1447" y1="1649.3" x2="1447" y2="1658.3" stroke="#000" stroke-width="3" stroke-linecap="butt"/>
<text transform="translate(1447 1678.4) scale(1 1.12)" font-size="15.5" text-anchor="middle" fill="#000" stroke="#000" stroke-width="0.45">1.0</text>
<line x1="1093.7" y1="1633.35" x2="1102.7" y2="1633.35" stroke="#000" stroke-width="3" stroke-linecap="butt"/>
<text transform="translate(1084 1638.85) scale(1 1.12)" font-size="15.5" text-anchor="end" fill="#000" stroke="#000" stroke-width="0.45">0.0</text>
<line x1="1093.7" y1="1569.57" x2="1102.7" y2="1569.57" stroke="#000" stroke-width="3" stroke-linecap="butt"/>
<text transform="translate(1084 1575.07) scale(1 1.12)" font-size="15.5" text-anchor="end" fill="#000" stroke="#000" stroke-width="0.45">0.2</text>
<line x1="1093.7" y1="1505.79" x2="1102.7" y2="1505.79" stroke="#000" stroke-width="3" stroke-linecap="butt"/>
<text transform="translate(1084 1511.29) scale(1 1.12)" font-size="15.5" text-anchor="end" fill="#000" stroke="#000" stroke-width="0.45">0.4</text>
<line x1="1093.7" y1="1442.01" x2="1102.7" y2="1442.01" stroke="#000" stroke-width="3" stroke-linecap="butt"/>
<text transform="translate(1084 1447.51) scale(1 1.12)" font-size="15.5" text-anchor="end" fill="#000" stroke="#000" stroke-width="0.45">0.6</text>
<line x1="1093.7" y1="1378.23" x2="1102.7" y2="1378.23" stroke="#000" stroke-width="3" stroke-linecap="butt"/>
<text transform="translate(1084 1383.73) scale(1 1.12)" font-size="15.5" text-anchor="end" fill="#000" stroke="#000" stroke-width="0.45">0.8</text>
<line x1="1093.7" y1="1314.45" x2="1102.7" y2="1314.45" stroke="#000" stroke-width="3" stroke-linecap="butt"/>
<text transform="translate(1084 1319.95) scale(1 1.12)" font-size="15.5" text-anchor="end" fill="#000" stroke="#000" stroke-width="0.45">1.0</text>
<text transform="translate(1283.05 1703.8) scale(1 1.04)" font-size="15.5" text-anchor="middle" fill="#000" stroke="#000" stroke-width="0.45">1-Specificity</text>
<text transform="translate(1050.2 1473.9) rotate(-90) scale(1 1.04)" font-size="15.5" text-anchor="middle" fill="#000" stroke="#000" stroke-width="0.45">Sensitivity</text>
<text transform="translate(1288 1269.1) scale(1 1.04)" font-size="22.5" text-anchor="middle" fill="#000" stroke="#000" stroke-width="0.45">(External test set #1)</text>
<text transform="translate(1281.3 1291.4) scale(1 1.04)" font-size="22.5" text-anchor="middle" fill="#000" stroke="#000" stroke-width="0.45">p&lt;0.001</text>
<clipPath id="r4"><rect x="1601.2" y="1298.5" width="360.7" height="350.8"/></clipPath>
<g clip-path="url(#r4)">
<path d="M1617.6 1633.35L1619.89 1545.97L1629.07 1486.98L1630.06 1478.36L1640.22 1346.34L1642.84 1344.1L1650.71 1317.63L1945.5 1314.45L1945.5 1314.45L1705.15 1389.07L1627.76 1565.43L1617.6 1633.35Z" fill="#d1d1d1"/>
<path d="M1617.6 1633.35L1619.89 1545.97L1629.07 1486.98L1630.06 1478.36L1640.22 1346.34L1642.84 1344.1L1650.71 1317.63L1945.5 1314.45" fill="none" stroke="#111" stroke-width="2.8" stroke-linejoin="round"/>
<path d="M1617.6 1633.35L1627.76 1565.43L1705.15 1389.07L1945.5 1314.45" fill="none" stroke="#111" stroke-width="2.8" stroke-dasharray="10.4 4.1" stroke-linejoin="round"/>
<rect x="1726.3" y="1593" width="227.8" height="48.6" rx="3.5" fill="#fff" fill-opacity="0.8" stroke="#cccccc" stroke-width="3.2"/>
</g>
<text transform="translate(1650.39 1378.23) scale(1 1.04)" font-size="15.5" text-anchor="start" fill="#000" stroke="#000" stroke-width="0.45">Area difference = 0.190</text>
<line x1="1731.4" y1="1604.9" x2="1765.3" y2="1604.9" stroke="#111" stroke-width="2.8" stroke-linecap="butt"/>
<text transform="translate(1775.8 1610.6) scale(1 1.04)" font-size="15.5" text-anchor="start" fill="#000" stroke="#000" stroke-width="0.45">MRI-PTPCa, AUC=0.957</text>
<line x1="1732.1" y1="1627.1" x2="1764.6" y2="1627.1" stroke="#111" stroke-width="2.8" stroke-linecap="butt" stroke-dasharray="10.4 4.1"/>
<text transform="translate(1775.8 1632.3) scale(1 1.04)" font-size="15.5" text-anchor="start" fill="#000" stroke="#000" stroke-width="0.45">PI-RADS, AUC=0.767</text>
<rect x="1601.2" y="1298.5" width="360.7" height="350.8" fill="none" stroke="#000" stroke-width="3"/>
<line x1="1617.6" y1="1649.3" x2="1617.6" y2="1658.3" stroke="#000" stroke-width="3" stroke-linecap="butt"/>
<text transform="translate(1617.6 1678.4) scale(1 1.12)" font-size="15.5" text-anchor="middle" fill="#000" stroke="#000" stroke-width="0.45">0.0</text>
<line x1="1683.18" y1="1649.3" x2="1683.18" y2="1658.3" stroke="#000" stroke-width="3" stroke-linecap="butt"/>
<text transform="translate(1683.18 1678.4) scale(1 1.12)" font-size="15.5" text-anchor="middle" fill="#000" stroke="#000" stroke-width="0.45">0.2</text>
<line x1="1748.76" y1="1649.3" x2="1748.76" y2="1658.3" stroke="#000" stroke-width="3" stroke-linecap="butt"/>
<text transform="translate(1748.76 1678.4) scale(1 1.12)" font-size="15.5" text-anchor="middle" fill="#000" stroke="#000" stroke-width="0.45">0.4</text>
<line x1="1814.34" y1="1649.3" x2="1814.34" y2="1658.3" stroke="#000" stroke-width="3" stroke-linecap="butt"/>
<text transform="translate(1814.34 1678.4) scale(1 1.12)" font-size="15.5" text-anchor="middle" fill="#000" stroke="#000" stroke-width="0.45">0.6</text>
<line x1="1879.92" y1="1649.3" x2="1879.92" y2="1658.3" stroke="#000" stroke-width="3" stroke-linecap="butt"/>
<text transform="translate(1879.92 1678.4) scale(1 1.12)" font-size="15.5" text-anchor="middle" fill="#000" stroke="#000" stroke-width="0.45">0.8</text>
<line x1="1945.5" y1="1649.3" x2="1945.5" y2="1658.3" stroke="#000" stroke-width="3" stroke-linecap="butt"/>
<text transform="translate(1945.5 1678.4) scale(1 1.12)" font-size="15.5" text-anchor="middle" fill="#000" stroke="#000" stroke-width="0.45">1.0</text>
<line x1="1592.2" y1="1633.35" x2="1601.2" y2="1633.35" stroke="#000" stroke-width="3" stroke-linecap="butt"/>
<text transform="translate(1582.5 1638.85) scale(1 1.12)" font-size="15.5" text-anchor="end" fill="#000" stroke="#000" stroke-width="0.45">0.0</text>
<line x1="1592.2" y1="1569.57" x2="1601.2" y2="1569.57" stroke="#000" stroke-width="3" stroke-linecap="butt"/>
<text transform="translate(1582.5 1575.07) scale(1 1.12)" font-size="15.5" text-anchor="end" fill="#000" stroke="#000" stroke-width="0.45">0.2</text>
<line x1="1592.2" y1="1505.79" x2="1601.2" y2="1505.79" stroke="#000" stroke-width="3" stroke-linecap="butt"/>
<text transform="translate(1582.5 1511.29) scale(1 1.12)" font-size="15.5" text-anchor="end" fill="#000" stroke="#000" stroke-width="0.45">0.4</text>
<line x1="1592.2" y1="1442.01" x2="1601.2" y2="1442.01" stroke="#000" stroke-width="3" stroke-linecap="butt"/>
<text transform="translate(1582.5 1447.51) scale(1 1.12)" font-size="15.5" text-anchor="end" fill="#000" stroke="#000" stroke-width="0.45">0.6</text>
<line x1="1592.2" y1="1378.23" x2="1601.2" y2="1378.23" stroke="#000" stroke-width="3" stroke-linecap="butt"/>
<text transform="translate(1582.5 1383.73) scale(1 1.12)" font-size="15.5" text-anchor="end" fill="#000" stroke="#000" stroke-width="0.45">0.8</text>
<line x1="1592.2" y1="1314.45" x2="1601.2" y2="1314.45" stroke="#000" stroke-width="3" stroke-linecap="butt"/>
<text transform="translate(1582.5 1319.95) scale(1 1.12)" font-size="15.5" text-anchor="end" fill="#000" stroke="#000" stroke-width="0.45">1.0</text>
<text transform="translate(1781.55 1703.8) scale(1 1.04)" font-size="15.5" text-anchor="middle" fill="#000" stroke="#000" stroke-width="0.45">1-Specificity</text>
<text transform="translate(1548.7 1473.9) rotate(-90) scale(1 1.04)" font-size="15.5" text-anchor="middle" fill="#000" stroke="#000" stroke-width="0.45">Sensitivity</text>
<text transform="translate(1773 1269.1) scale(1 1.04)" font-size="22.5" text-anchor="middle" fill="#000" stroke="#000" stroke-width="0.45">(External test set #2)</text>
<text transform="translate(1778.7 1291.4) scale(1 1.04)" font-size="22.5" text-anchor="middle" fill="#000" stroke="#000" stroke-width="0.45">p&lt;0.001</text>
<clipPath id="r5"><rect x="106.1" y="1800.3" width="360.5" height="350.7"/></clipPath>
<g clip-path="url(#r5)">
<path d="M122.49 2135.06L122.49 1816.24L450.21 1816.24L450.21 1816.24L443.66 1823.54L432.84 1831.99L422.03 1837.37L414.82 1842.75L409.25 1849.28L398.43 1852.73L390.89 1858.11L384.67 1860.03L376.15 1866.56L364.35 1866.56L361.07 1876.16L354.52 1877.32L343.7 1888.07L326.66 1888.07L323.38 1891.14L318.14 1900.75L313.88 1909.58L303.06 1914.96L296.51 1921.49L287.99 1926.87L281.43 1933.01L268.65 1939.54L263.41 1943L253.58 1949.15L245.06 1952.6L236.54 1961.05L229 1962.21L222.44 1978.34L212.94 1980.26L207.37 1985.64L199.83 1991.01L193.6 1992.17L185.08 1998.7L177.54 2004.07L171.97 2013.68L163.45 2013.68L158.21 2027.89L151.65 2030.96L148.38 2045.94L146.41 2057.85L139.86 2063.23L135.6 2082.43L131.33 2102.02L127.07 2118.93L122.49 2135.06Z" fill="#d1d1d1"/>
<path d="M122.49 1816.24L450.21 1816.24" fill="none" stroke="#111" stroke-width="2.8" stroke-linejoin="round"/>
<path d="M122.49 2135.06L127.07 2118.93L131.33 2102.02L135.6 2082.43L139.86 2063.23L146.41 2057.85L148.38 2045.94L151.65 2030.96L158.21 2027.89L163.45 2013.68L171.97 2013.68L177.54 2004.07L185.08 1998.7L193.6 1992.17L199.83 1991.01L207.37 1985.64L212.94 1980.26L222.44 1978.34L229 1962.21L236.54 1961.05L245.06 1952.6L253.58 1949.15L263.41 1943L268.65 1939.54L281.43 1933.01L287.99 1926.87L296.51 1921.49L303.06 1914.96L313.88 1909.58L318.14 1900.75L323.38 1891.14L326.66 1888.07L343.7 1888.07L354.52 1877.32L361.07 1876.16L364.35 1866.56L376.15 1866.56L384.67 1860.03L390.89 1858.11L398.43 1852.73L409.25 1849.28L414.82 1842.75L422.03 1837.37L432.84 1831.99L443.66 1823.54L450.21 1816.24" fill="none" stroke="#111" stroke-width="2.8" stroke-dasharray="10.4 4.1" stroke-linejoin="round"/>
<rect x="231" y="2094.7" width="227.8" height="48.6" rx="3.5" fill="#fff" fill-opacity="0.8" stroke="#cccccc" stroke-width="3.2"/>
</g>
<text transform="translate(155.26 1893.06) scale(1 1.04)" font-size="15.5" text-anchor="start" fill="#000" stroke="#000" stroke-width="0.45">Area difference = 0.302</text>
<line x1="236.1" y1="2106.6" x2="270" y2="2106.6" stroke="#111" stroke-width="2.8" stroke-linecap="butt"/>
<text transform="translate(280.5 2112.3) scale(1 1.04)" font-size="15.5" text-anchor="start" fill="#000" stroke="#000" stroke-width="0.45">MRI-PTPCa, AUC=1.000</text>
<line x1="236.8" y1="2128.8" x2="269.3" y2="2128.8" stroke="#111" stroke-width="2.8" stroke-linecap="butt" stroke-dasharray="10.4 4.1"/>
<text transform="translate(280.5 2134) scale(1 1.04)" font-size="15.5" text-anchor="start" fill="#000" stroke="#000" stroke-width="0.45">PSA</text>
<text transform="translate(363.5 2134) scale(1 1.04)" font-size="15.5" text-anchor="start" fill="#000" stroke="#000" stroke-width="0.45">, AUC=0.698</text>
<rect x="106.1" y="1800.3" width="360.5" height="350.7" fill="none" stroke="#000" stroke-width="3"/>
<line x1="122.49" y1="2151" x2="122.49" y2="2160" stroke="#000" stroke-width="3" stroke-linecap="butt"/>
<text transform="translate(122.49 2180.1) scale(1 1.12)" font-size="15.5" text-anchor="middle" fill="#000" stroke="#000" stroke-width="0.45">0.0</text>
<line x1="188.03" y1="2151" x2="188.03" y2="2160" stroke="#000" stroke-width="3" stroke-linecap="butt"/>
<text transform="translate(188.03 2180.1) scale(1 1.12)" font-size="15.5" text-anchor="middle" fill="#000" stroke="#000" stroke-width="0.45">0.2</text>
<line x1="253.58" y1="2151" x2="253.58" y2="2160" stroke="#000" stroke-width="3" stroke-linecap="butt"/>
<text transform="translate(253.58 2180.1) scale(1 1.12)" font-size="15.5" text-anchor="middle" fill="#000" stroke="#000" stroke-width="0.45">0.4</text>
<line x1="319.12" y1="2151" x2="319.12" y2="2160" stroke="#000" stroke-width="3" stroke-linecap="butt"/>
<text transform="translate(319.12 2180.1) scale(1 1.12)" font-size="15.5" text-anchor="middle" fill="#000" stroke="#000" stroke-width="0.45">0.6</text>
<line x1="384.67" y1="2151" x2="384.67" y2="2160" stroke="#000" stroke-width="3" stroke-linecap="butt"/>
<text transform="translate(384.67 2180.1) scale(1 1.12)" font-size="15.5" text-anchor="middle" fill="#000" stroke="#000" stroke-width="0.45">0.8</text>
<line x1="450.21" y1="2151" x2="450.21" y2="2160" stroke="#000" stroke-width="3" stroke-linecap="butt"/>
<text transform="translate(450.21 2180.1) scale(1 1.12)" font-size="15.5" text-anchor="middle" fill="#000" stroke="#000" stroke-width="0.45">1.0</text>
<line x1="97.1" y1="2123.54" x2="106.1" y2="2123.54" stroke="#000" stroke-width="3" stroke-linecap="butt"/>
<text transform="translate(87.4 2129.04) scale(1 1.12)" font-size="15.5" text-anchor="end" fill="#000" stroke="#000" stroke-width="0.45">0.2</text>
<line x1="97.1" y1="2046.71" x2="106.1" y2="2046.71" stroke="#000" stroke-width="3" stroke-linecap="butt"/>
<text transform="translate(87.4 2052.21) scale(1 1.12)" font-size="15.5" text-anchor="end" fill="#000" stroke="#000" stroke-width="0.45">0.4</text>
<line x1="97.1" y1="1969.89" x2="106.1" y2="1969.89" stroke="#000" stroke-width="3" stroke-linecap="butt"/>
<text transform="translate(87.4 1975.39) scale(1 1.12)" font-size="15.5" text-anchor="end" fill="#000" stroke="#000" stroke-width="0.45">0.6</text>
<line x1="97.1" y1="1893.06" x2="106.1" y2="1893.06" stroke="#000" stroke-width="3" stroke-linecap="butt"/>
<text transform="translate(87.4 1898.56) scale(1 1.12)" font-size="15.5" text-anchor="end" fill="#000" stroke="#000" stroke-width="0.45">0.8</text>
<line x1="97.1" y1="1816.24" x2="106.1" y2="1816.24" stroke="#000" stroke-width="3" stroke-linecap="butt"/>
<text transform="translate(87.4 1821.74) scale(1 1.12)" font-size="15.5" text-anchor="end" fill="#000" stroke="#000" stroke-width="0.45">1.0</text>
<text transform="translate(286.35 2205.5) scale(1 1.04)" font-size="15.5" text-anchor="middle" fill="#000" stroke="#000" stroke-width="0.45">1 Specificity</text>
<text transform="translate(53.6 1975.65) rotate(-90) scale(1 1.04)" font-size="15.5" text-anchor="middle" fill="#000" stroke="#000" stroke-width="0.45">Sensitivity</text>
<text transform="translate(282 1769.1) scale(1 1.04)" font-size="22.5" text-anchor="middle" fill="#000" stroke="#000" stroke-width="0.45">(External test set #3)</text>
<text transform="translate(284.2 1792.9) scale(1 1.04)" font-size="22.5" text-anchor="middle" fill="#000" stroke="#000" stroke-width="0.45">p&lt;0.001</text>
<clipPath id="r6"><rect x="604.2" y="1800.3" width="360.7" height="350.7"/></clipPath>
<g clip-path="url(#r6)">
<path d="M620.6 2135.06L620.6 1831.15L866.2 1831.15L948.5 1816.24L948.5 1816.24L932.76 1846.05L917.68 1853.51L911.12 1874.21L898.33 1881.66L889.81 1889.11L874.73 1896.15L866.2 1896.57L858.66 1903.19L840.29 1906.09L823.24 1910.64L805.86 1911.47L793.08 1918.1L782.25 1927.62L770.45 1938.39L754.38 1945.01L741.59 1950.39L724.21 1956.6L709.13 1961.99L696.34 1975.24L683.55 1983.52L672.41 1990.97L666.17 2010.43L658.63 2026.58L650.11 2026.58L639.61 2031.96L635.02 2035.27L629.45 2099.86L620.6 2135.06Z" fill="#d1d1d1"/>
<path d="M620.6 1831.15L866.2 1831.15L948.5 1816.24" fill="none" stroke="#111" stroke-width="2.8" stroke-linejoin="round"/>
<path d="M620.6 2135.06L629.45 2099.86L635.02 2035.27L639.61 2031.96L650.11 2026.58L658.63 2026.58L666.17 2010.43L672.41 1990.97L683.55 1983.52L696.34 1975.24L709.13 1961.99L724.21 1956.6L741.59 1950.39L754.38 1945.01L770.45 1938.39L782.25 1927.62L793.08 1918.1L805.86 1911.47L823.24 1910.64L840.29 1906.09L858.66 1903.19L866.2 1896.57L874.73 1896.15L889.81 1889.11L898.33 1881.66L911.12 1874.21L917.68 1853.51L932.76 1846.05L948.5 1816.24" fill="none" stroke="#111" stroke-width="2.8" stroke-dasharray="10.4 4.1" stroke-linejoin="round"/>
<rect x="729.3" y="2094.7" width="227.8" height="48.6" rx="3.5" fill="#fff" fill-opacity="0.8" stroke="#cccccc" stroke-width="3.2"/>
</g>
<text transform="translate(653.39 1899.05) scale(1 1.04)" font-size="15.5" text-anchor="start" fill="#000" stroke="#000" stroke-width="0.45">Area difference = 0.260</text>
<line x1="734.4" y1="2106.6" x2="768.3" y2="2106.6" stroke="#111" stroke-width="2.8" stroke-linecap="butt"/>
<text transform="translate(778.8 2112.3) scale(1 1.04)" font-size="15.5" text-anchor="start" fill="#000" stroke="#000" stroke-width="0.45">MRI-PTPCa, AUC=0.969</text>
<line x1="735.1" y1="2128.8" x2="767.6" y2="2128.8" stroke="#111" stroke-width="2.8" stroke-linecap="butt" stroke-dasharray="10.4 4.1"/>
<text transform="translate(778.8 2134) scale(1 1.04)" font-size="15.5" text-anchor="start" fill="#000" stroke="#000" stroke-width="0.45">PSA</text>
<text transform="translate(861.8 2134) scale(1 1.04)" font-size="15.5" text-anchor="start" fill="#000" stroke="#000" stroke-width="0.45">, AUC=0.710</text>
<rect x="604.2" y="1800.3" width="360.7" height="350.7" fill="none" stroke="#000" stroke-width="3"/>
<line x1="620.6" y1="2151" x2="620.6" y2="2160" stroke="#000" stroke-width="3" stroke-linecap="butt"/>
<text transform="translate(620.6 2180.1) scale(1 1.12)" font-size="15.5" text-anchor="middle" fill="#000" stroke="#000" stroke-width="0.45">0.0</text>
<line x1="686.18" y1="2151" x2="686.18" y2="2160" stroke="#000" stroke-width="3" stroke-linecap="butt"/>
<text transform="translate(686.18 2180.1) scale(1 1.12)" font-size="15.5" text-anchor="middle" fill="#000" stroke="#000" stroke-width="0.45">0.2</text>
<line x1="751.76" y1="2151" x2="751.76" y2="2160" stroke="#000" stroke-width="3" stroke-linecap="butt"/>
<text transform="translate(751.76 2180.1) scale(1 1.12)" font-size="15.5" text-anchor="middle" fill="#000" stroke="#000" stroke-width="0.45">0.4</text>
<line x1="817.34" y1="2151" x2="817.34" y2="2160" stroke="#000" stroke-width="3" stroke-linecap="butt"/>
<text transform="translate(817.34 2180.1) scale(1 1.12)" font-size="15.5" text-anchor="middle" fill="#000" stroke="#000" stroke-width="0.45">0.6</text>
<line x1="882.92" y1="2151" x2="882.92" y2="2160" stroke="#000" stroke-width="3" stroke-linecap="butt"/>
<text transform="translate(882.92 2180.1) scale(1 1.12)" font-size="15.5" text-anchor="middle" fill="#000" stroke="#000" stroke-width="0.45">0.8</text>
<line x1="948.5" y1="2151" x2="948.5" y2="2160" stroke="#000" stroke-width="3" stroke-linecap="butt"/>
<text transform="translate(948.5 2180.1) scale(1 1.12)" font-size="15.5" text-anchor="middle" fill="#000" stroke="#000" stroke-width="0.45">1.0</text>
<line x1="595.2" y1="2147.48" x2="604.2" y2="2147.48" stroke="#000" stroke-width="3" stroke-linecap="butt"/>
<text transform="translate(585.5 2152.98) scale(1 1.12)" font-size="15.5" text-anchor="end" fill="#000" stroke="#000" stroke-width="0.45">0.2</text>
<line x1="595.2" y1="2106.08" x2="604.2" y2="2106.08" stroke="#000" stroke-width="3" stroke-linecap="butt"/>
<text transform="translate(585.5 2111.58) scale(1 1.12)" font-size="15.5" text-anchor="end" fill="#000" stroke="#000" stroke-width="0.45">0.3</text>
<line x1="595.2" y1="2064.67" x2="604.2" y2="2064.67" stroke="#000" stroke-width="3" stroke-linecap="butt"/>
<text transform="translate(585.5 2070.17) scale(1 1.12)" font-size="15.5" text-anchor="end" fill="#000" stroke="#000" stroke-width="0.45">0.4</text>
<line x1="595.2" y1="2023.27" x2="604.2" y2="2023.27" stroke="#000" stroke-width="3" stroke-linecap="butt"/>
<text transform="translate(585.5 2028.77) scale(1 1.12)" font-size="15.5" text-anchor="end" fill="#000" stroke="#000" stroke-width="0.45">0.5</text>
<line x1="595.2" y1="1981.86" x2="604.2" y2="1981.86" stroke="#000" stroke-width="3" stroke-linecap="butt"/>
<text transform="translate(585.5 1987.36) scale(1 1.12)" font-size="15.5" text-anchor="end" fill="#000" stroke="#000" stroke-width="0.45">0.6</text>
<line x1="595.2" y1="1940.46" x2="604.2" y2="1940.46" stroke="#000" stroke-width="3" stroke-linecap="butt"/>
<text transform="translate(585.5 1945.96) scale(1 1.12)" font-size="15.5" text-anchor="end" fill="#000" stroke="#000" stroke-width="0.45">0.7</text>
<line x1="595.2" y1="1899.05" x2="604.2" y2="1899.05" stroke="#000" stroke-width="3" stroke-linecap="butt"/>
<text transform="translate(585.5 1904.55) scale(1 1.12)" font-size="15.5" text-anchor="end" fill="#000" stroke="#000" stroke-width="0.45">0.8</text>
<line x1="595.2" y1="1857.65" x2="604.2" y2="1857.65" stroke="#000" stroke-width="3" stroke-linecap="butt"/>
<text transform="translate(585.5 1863.15) scale(1 1.12)" font-size="15.5" text-anchor="end" fill="#000" stroke="#000" stroke-width="0.45">0.9</text>
<line x1="595.2" y1="1816.24" x2="604.2" y2="1816.24" stroke="#000" stroke-width="3" stroke-linecap="butt"/>
<text transform="translate(585.5 1821.74) scale(1 1.12)" font-size="15.5" text-anchor="end" fill="#000" stroke="#000" stroke-width="0.45">1.0</text>
<text transform="translate(784.55 2205.5) scale(1 1.04)" font-size="15.5" text-anchor="middle" fill="#000" stroke="#000" stroke-width="0.45">1-Specificity</text>
<text transform="translate(551.7 1975.65) rotate(-90) scale(1 1.04)" font-size="15.5" text-anchor="middle" fill="#000" stroke="#000" stroke-width="0.45">Sensitivity</text>
<text transform="translate(782 1769.1) scale(1 1.04)" font-size="22.5" text-anchor="middle" fill="#000" stroke="#000" stroke-width="0.45">(External test set #4)</text>
<text transform="translate(779 1792.9) scale(1 1.04)" font-size="22.5" text-anchor="middle" fill="#000" stroke="#000" stroke-width="0.45">p&lt;0.001</text>
<clipPath id="r7"><rect x="1102.7" y="1800.3" width="360.7" height="350.7"/></clipPath>
<g clip-path="url(#r7)">
<path d="M1119.1 2135.06L1119.1 1941.86L1123.03 1921.45L1127.95 1816.24L1447 1816.24L1447 1816.24L1180.41 1949.19L1127.95 2053.44L1119.1 2135.06Z" fill="#d1d1d1"/>
<path d="M1119.1 1941.86L1123.03 1921.45L1127.95 1816.24L1447 1816.24" fill="none" stroke="#111" stroke-width="2.8" stroke-linejoin="round"/>
<path d="M1119.1 2135.06L1127.95 2053.44L1180.41 1949.19L1447 1816.24" fill="none" stroke="#111" stroke-width="2.8" stroke-dasharray="10.4 4.1" stroke-linejoin="round"/>
<rect x="1227.8" y="2094.7" width="227.8" height="48.6" rx="3.5" fill="#fff" fill-opacity="0.8" stroke="#cccccc" stroke-width="3.2"/>
</g>
<text transform="translate(1151.89 1880) scale(1 1.04)" font-size="15.5" text-anchor="start" fill="#000" stroke="#000" stroke-width="0.45">Area difference = 0.283</text>
<line x1="1232.9" y1="2106.6" x2="1266.8" y2="2106.6" stroke="#111" stroke-width="2.8" stroke-linecap="butt"/>
<text transform="translate(1277.3 2112.3) scale(1 1.04)" font-size="15.5" text-anchor="start" fill="#000" stroke="#000" stroke-width="0.45">MRI-PTPCa, AUC=0.993</text>
<line x1="1233.6" y1="2128.8" x2="1266.1" y2="2128.8" stroke="#111" stroke-width="2.8" stroke-linecap="butt" stroke-dasharray="10.4 4.1"/>
<text transform="translate(1277.3 2134) scale(1 1.04)" font-size="15.5" text-anchor="start" fill="#000" stroke="#000" stroke-width="0.45">PI-RADS, AUC=0.710</text>
<rect x="1102.7" y="1800.3" width="360.7" height="350.7" fill="none" stroke="#000" stroke-width="3"/>
<line x1="1119.1" y1="2151" x2="1119.1" y2="2160" stroke="#000" stroke-width="3" stroke-linecap="butt"/>
<text transform="translate(1119.1 2180.1) scale(1 1.12)" font-size="15.5" text-anchor="middle" fill="#000" stroke="#000" stroke-width="0.45">0.0</text>
<line x1="1184.68" y1="2151" x2="1184.68" y2="2160" stroke="#000" stroke-width="3" stroke-linecap="butt"/>
<text transform="translate(1184.68 2180.1) scale(1 1.12)" font-size="15.5" text-anchor="middle" fill="#000" stroke="#000" stroke-width="0.45">0.2</text>
<line x1="1250.26" y1="2151" x2="1250.26" y2="2160" stroke="#000" stroke-width="3" stroke-linecap="butt"/>
<text transform="translate(1250.26 2180.1) scale(1 1.12)" font-size="15.5" text-anchor="middle" fill="#000" stroke="#000" stroke-width="0.45">0.4</text>
<line x1="1315.84" y1="2151" x2="1315.84" y2="2160" stroke="#000" stroke-width="3" stroke-linecap="butt"/>
<text transform="translate(1315.84 2180.1) scale(1 1.12)" font-size="15.5" text-anchor="middle" fill="#000" stroke="#000" stroke-width="0.45">0.6</text>
<line x1="1381.42" y1="2151" x2="1381.42" y2="2160" stroke="#000" stroke-width="3" stroke-linecap="butt"/>
<text transform="translate(1381.42 2180.1) scale(1 1.12)" font-size="15.5" text-anchor="middle" fill="#000" stroke="#000" stroke-width="0.45">0.8</text>
<line x1="1447" y1="2151" x2="1447" y2="2160" stroke="#000" stroke-width="3" stroke-linecap="butt"/>
<text transform="translate(1447 2180.1) scale(1 1.12)" font-size="15.5" text-anchor="middle" fill="#000" stroke="#000" stroke-width="0.45">1.0</text>
<line x1="1093.7" y1="2135.06" x2="1102.7" y2="2135.06" stroke="#000" stroke-width="3" stroke-linecap="butt"/>
<text transform="translate(1084 2140.56) scale(1 1.12)" font-size="15.5" text-anchor="end" fill="#000" stroke="#000" stroke-width="0.45">0.0</text>
<line x1="1093.7" y1="2071.3" x2="1102.7" y2="2071.3" stroke="#000" stroke-width="3" stroke-linecap="butt"/>
<text transform="translate(1084 2076.8) scale(1 1.12)" font-size="15.5" text-anchor="end" fill="#000" stroke="#000" stroke-width="0.45">0.2</text>
<line x1="1093.7" y1="2007.53" x2="1102.7" y2="2007.53" stroke="#000" stroke-width="3" stroke-linecap="butt"/>
<text transform="translate(1084 2013.03) scale(1 1.12)" font-size="15.5" text-anchor="end" fill="#000" stroke="#000" stroke-width="0.45">0.4</text>
<line x1="1093.7" y1="1943.77" x2="1102.7" y2="1943.77" stroke="#000" stroke-width="3" stroke-linecap="butt"/>
<text transform="translate(1084 1949.27) scale(1 1.12)" font-size="15.5" text-anchor="end" fill="#000" stroke="#000" stroke-width="0.45">0.6</text>
<line x1="1093.7" y1="1880" x2="1102.7" y2="1880" stroke="#000" stroke-width="3" stroke-linecap="butt"/>
<text transform="translate(1084 1885.5) scale(1 1.12)" font-size="15.5" text-anchor="end" fill="#000" stroke="#000" stroke-width="0.45">0.8</text>
<line x1="1093.7" y1="1816.24" x2="1102.7" y2="1816.24" stroke="#000" stroke-width="3" stroke-linecap="butt"/>
<text transform="translate(1084 1821.74) scale(1 1.12)" font-size="15.5" text-anchor="end" fill="#000" stroke="#000" stroke-width="0.45">1.0</text>
<text transform="translate(1283.05 2205.5) scale(1 1.04)" font-size="15.5" text-anchor="middle" fill="#000" stroke="#000" stroke-width="0.45">1-Specificity</text>
<text transform="translate(1050.2 1975.65) rotate(-90) scale(1 1.04)" font-size="15.5" text-anchor="middle" fill="#000" stroke="#000" stroke-width="0.45">Sensitivity</text>
<text transform="translate(1280.5 1769.1) scale(1 1.04)" font-size="22.5" text-anchor="middle" fill="#000" stroke="#000" stroke-width="0.45">(External test set #3)</text>
<text transform="translate(1281.5 1792.9) scale(1 1.04)" font-size="22.5" text-anchor="middle" fill="#000" stroke="#000" stroke-width="0.45">p=0.006</text>
<clipPath id="r8"><rect x="1601.2" y="1800.3" width="360.7" height="350.7"/></clipPath>
<g clip-path="url(#r8)">
<path d="M1617.6 2135.06L1617.6 1816.24L1945.5 1816.24L1945.5 1816.24L1906.16 1816.88L1654.65 2007.21L1630.06 2050.25L1617.6 2135.06Z" fill="#d1d1d1"/>
<path d="M1617.6 1816.24L1945.5 1816.24" fill="none" stroke="#111" stroke-width="2.8" stroke-linejoin="round"/>
<path d="M1617.6 2135.06L1630.06 2050.25L1654.65 2007.21L1906.16 1816.88L1945.5 1816.24" fill="none" stroke="#111" stroke-width="2.8" stroke-dasharray="10.4 4.1" stroke-linejoin="round"/>
<rect x="1726.3" y="2094.7" width="227.8" height="48.6" rx="3.5" fill="#fff" fill-opacity="0.8" stroke="#cccccc" stroke-width="3.2"/>
</g>
<text transform="translate(1650.39 1880) scale(1 1.04)" font-size="15.5" text-anchor="start" fill="#000" stroke="#000" stroke-width="0.45">Area difference = 0.315</text>
<line x1="1731.4" y1="2106.6" x2="1765.3" y2="2106.6" stroke="#111" stroke-width="2.8" stroke-linecap="butt"/>
<text transform="translate(1775.8 2112.3) scale(1 1.04)" font-size="15.5" text-anchor="start" fill="#000" stroke="#000" stroke-width="0.45">MRI-PTPCa, AUC=1.000</text>
<line x1="1732.1" y1="2128.8" x2="1764.6" y2="2128.8" stroke="#111" stroke-width="2.8" stroke-linecap="butt" stroke-dasharray="10.4 4.1"/>
<text transform="translate(1775.8 2134) scale(1 1.04)" font-size="15.5" text-anchor="start" fill="#000" stroke="#000" stroke-width="0.45">PI-RADS, AUC=0.685</text>
<rect x="1601.2" y="1800.3" width="360.7" height="350.7" fill="none" stroke="#000" stroke-width="3"/>
<line x1="1617.6" y1="2151" x2="1617.6" y2="2160" stroke="#000" stroke-width="3" stroke-linecap="butt"/>
<text transform="translate(1617.6 2180.1) scale(1 1.12)" font-size="15.5" text-anchor="middle" fill="#000" stroke="#000" stroke-width="0.45">0.0</text>
<line x1="1683.18" y1="2151" x2="1683.18" y2="2160" stroke="#000" stroke-width="3" stroke-linecap="butt"/>
<text transform="translate(1683.18 2180.1) scale(1 1.12)" font-size="15.5" text-anchor="middle" fill="#000" stroke="#000" stroke-width="0.45">0.2</text>
<line x1="1748.76" y1="2151" x2="1748.76" y2="2160" stroke="#000" stroke-width="3" stroke-linecap="butt"/>
<text transform="translate(1748.76 2180.1) scale(1 1.12)" font-size="15.5" text-anchor="middle" fill="#000" stroke="#000" stroke-width="0.45">0.4</text>
<line x1="1814.34" y1="2151" x2="1814.34" y2="2160" stroke="#000" stroke-width="3" stroke-linecap="butt"/>
<text transform="translate(1814.34 2180.1) scale(1 1.12)" font-size="15.5" text-anchor="middle" fill="#000" stroke="#000" stroke-width="0.45">0.6</text>
<line x1="1879.92" y1="2151" x2="1879.92" y2="2160" stroke="#000" stroke-width="3" stroke-linecap="butt"/>
<text transform="translate(1879.92 2180.1) scale(1 1.12)" font-size="15.5" text-anchor="middle" fill="#000" stroke="#000" stroke-width="0.45">0.8</text>
<line x1="1945.5" y1="2151" x2="1945.5" y2="2160" stroke="#000" stroke-width="3" stroke-linecap="butt"/>
<text transform="translate(1945.5 2180.1) scale(1 1.12)" font-size="15.5" text-anchor="middle" fill="#000" stroke="#000" stroke-width="0.45">1.0</text>
<line x1="1592.2" y1="2135.06" x2="1601.2" y2="2135.06" stroke="#000" stroke-width="3" stroke-linecap="butt"/>
<text transform="translate(1582.5 2140.56) scale(1 1.12)" font-size="15.5" text-anchor="end" fill="#000" stroke="#000" stroke-width="0.45">0.0</text>
<line x1="1592.2" y1="2071.3" x2="1601.2" y2="2071.3" stroke="#000" stroke-width="3" stroke-linecap="butt"/>
<text transform="translate(1582.5 2076.8) scale(1 1.12)" font-size="15.5" text-anchor="end" fill="#000" stroke="#000" stroke-width="0.45">0.2</text>
<line x1="1592.2" y1="2007.53" x2="1601.2" y2="2007.53" stroke="#000" stroke-width="3" stroke-linecap="butt"/>
<text transform="translate(1582.5 2013.03) scale(1 1.12)" font-size="15.5" text-anchor="end" fill="#000" stroke="#000" stroke-width="0.45">0.4</text>
<line x1="1592.2" y1="1943.77" x2="1601.2" y2="1943.77" stroke="#000" stroke-width="3" stroke-linecap="butt"/>
<text transform="translate(1582.5 1949.27) scale(1 1.12)" font-size="15.5" text-anchor="end" fill="#000" stroke="#000" stroke-width="0.45">0.6</text>
<line x1="1592.2" y1="1880" x2="1601.2" y2="1880" stroke="#000" stroke-width="3" stroke-linecap="butt"/>
<text transform="translate(1582.5 1885.5) scale(1 1.12)" font-size="15.5" text-anchor="end" fill="#000" stroke="#000" stroke-width="0.45">0.8</text>
<line x1="1592.2" y1="1816.24" x2="1601.2" y2="1816.24" stroke="#000" stroke-width="3" stroke-linecap="butt"/>
<text transform="translate(1582.5 1821.74) scale(1 1.12)" font-size="15.5" text-anchor="end" fill="#000" stroke="#000" stroke-width="0.45">1.0</text>
<text transform="translate(1781.55 2205.5) scale(1 1.04)" font-size="15.5" text-anchor="middle" fill="#000" stroke="#000" stroke-width="0.45">1-Specificity</text>
<text transform="translate(1548.7 1975.65) rotate(-90) scale(1 1.04)" font-size="15.5" text-anchor="middle" fill="#000" stroke="#000" stroke-width="0.45">Sensitivity</text>
<text transform="translate(1784.1 1769.1) scale(1 1.04)" font-size="22.5" text-anchor="middle" fill="#000" stroke="#000" stroke-width="0.45">(External test set #4)</text>
<text transform="translate(1776.8 1792.9) scale(1 1.04)" font-size="22.5" text-anchor="middle" fill="#000" stroke="#000" stroke-width="0.45">p=0.003</text>
<clipPath id="r9"><rect x="106.1" y="2302.7" width="360.5" height="351.2"/></clipPath>
<g clip-path="url(#r9)">
<path d="M122.49 2637.94L122.49 2544.71L127.4 2531.94L128.06 2429.77L129.7 2427.54L130.35 2324.41L298.8 2324.09L450.21 2318.66L450.21 2320.26L448.9 2326.65L437.1 2326.65L431.86 2328.88L422.03 2337.5L411.54 2349.31L408.26 2358.89L397.45 2366.24L388.93 2372.94L380.41 2378.37L377.13 2385.71L372.87 2394.33L361.07 2400.72L351.24 2406.14L345.01 2413.81L334.2 2417.96L326.66 2426.58L320.11 2435.2L309.62 2442.54L303.06 2446.05L292.25 2453.4L288.97 2462.02L281.43 2469.68L277.17 2477.98L266.69 2485.64L257.84 2488.84L254.56 2492.03L247.35 2501.93L238.5 2508.31L233.26 2516.93L221.46 2524.28L214.91 2528.75L204.42 2544.71L195.57 2551.09L185.08 2557.48L180.49 2558.76L166.73 2574.72L161.49 2582.38L160.17 2591.96L154.93 2598.35L140.84 2610.16L133.3 2617.82L127.07 2627.4L122.49 2637.3Z" fill="#d1d1d1"/>
<path d="M122.49 2544.71L127.4 2531.94L128.06 2429.77L129.7 2427.54L130.35 2324.41L298.8 2324.09L450.21 2318.66" fill="none" stroke="#111" stroke-width="2.8" stroke-linejoin="round"/>
<path d="M122.49 2637.3L127.07 2627.4L133.3 2617.82L140.84 2610.16L154.93 2598.35L160.17 2591.96L161.49 2582.38L166.73 2574.72L180.49 2558.76L185.08 2557.48L195.57 2551.09L204.42 2544.71L214.91 2528.75L221.46 2524.28L233.26 2516.93L238.5 2508.31L247.35 2501.93L254.56 2492.03L257.84 2488.84L266.69 2485.64L277.17 2477.98L281.43 2469.68L288.97 2462.02L292.25 2453.4L303.06 2446.05L309.62 2442.54L320.11 2435.2L326.66 2426.58L334.2 2417.96L345.01 2413.81L351.24 2406.14L361.07 2400.72L372.87 2394.33L377.13 2385.71L380.41 2378.37L388.93 2372.94L397.45 2366.24L408.26 2358.89L411.54 2349.31L422.03 2337.5L431.86 2328.88L437.1 2326.65L448.9 2326.65L450.21 2320.26" fill="none" stroke="#111" stroke-width="2.8" stroke-dasharray="10.4 4.1" stroke-linejoin="round"/>
<rect x="231" y="2597.6" width="227.8" height="48.6" rx="3.5" fill="#fff" fill-opacity="0.8" stroke="#cccccc" stroke-width="3.2"/>
</g>
<text transform="translate(155.26 2382.52) scale(1 1.04)" font-size="15.5" text-anchor="start" fill="#000" stroke="#000" stroke-width="0.45">Area difference = 0.437</text>
<line x1="236.1" y1="2609.5" x2="270" y2="2609.5" stroke="#111" stroke-width="2.8" stroke-linecap="butt"/>
<text transform="translate(280.5 2615.2) scale(1 1.04)" font-size="15.5" text-anchor="start" fill="#000" stroke="#000" stroke-width="0.45">MRI-PTPCa, AUC=0.973</text>
<line x1="236.8" y1="2631.7" x2="269.3" y2="2631.7" stroke="#111" stroke-width="2.8" stroke-linecap="butt" stroke-dasharray="10.4 4.1"/>
<text transform="translate(280.5 2636.9) scale(1 1.04)" font-size="15.5" text-anchor="start" fill="#000" stroke="#000" stroke-width="0.45">PSA</text>
<text transform="translate(363.5 2636.9) scale(1 1.04)" font-size="15.5" text-anchor="start" fill="#000" stroke="#000" stroke-width="0.45">, AUC=0.537</text>
<rect x="106.1" y="2302.7" width="360.5" height="351.2" fill="none" stroke="#000" stroke-width="3"/>
<line x1="122.49" y1="2653.9" x2="122.49" y2="2662.9" stroke="#000" stroke-width="3" stroke-linecap="butt"/>
<text transform="translate(122.49 2683) scale(1 1.12)" font-size="15.5" text-anchor="middle" fill="#000" stroke="#000" stroke-width="0.45">0.0</text>
<line x1="188.03" y1="2653.9" x2="188.03" y2="2662.9" stroke="#000" stroke-width="3" stroke-linecap="butt"/>
<text transform="translate(188.03 2683) scale(1 1.12)" font-size="15.5" text-anchor="middle" fill="#000" stroke="#000" stroke-width="0.45">0.2</text>
<line x1="253.58" y1="2653.9" x2="253.58" y2="2662.9" stroke="#000" stroke-width="3" stroke-linecap="butt"/>
<text transform="translate(253.58 2683) scale(1 1.12)" font-size="15.5" text-anchor="middle" fill="#000" stroke="#000" stroke-width="0.45">0.4</text>
<line x1="319.12" y1="2653.9" x2="319.12" y2="2662.9" stroke="#000" stroke-width="3" stroke-linecap="butt"/>
<text transform="translate(319.12 2683) scale(1 1.12)" font-size="15.5" text-anchor="middle" fill="#000" stroke="#000" stroke-width="0.45">0.6</text>
<line x1="384.67" y1="2653.9" x2="384.67" y2="2662.9" stroke="#000" stroke-width="3" stroke-linecap="butt"/>
<text transform="translate(384.67 2683) scale(1 1.12)" font-size="15.5" text-anchor="middle" fill="#000" stroke="#000" stroke-width="0.45">0.8</text>
<line x1="450.21" y1="2653.9" x2="450.21" y2="2662.9" stroke="#000" stroke-width="3" stroke-linecap="butt"/>
<text transform="translate(450.21 2683) scale(1 1.12)" font-size="15.5" text-anchor="middle" fill="#000" stroke="#000" stroke-width="0.45">1.0</text>
<line x1="97.1" y1="2637.94" x2="106.1" y2="2637.94" stroke="#000" stroke-width="3" stroke-linecap="butt"/>
<text transform="translate(87.4 2643.44) scale(1 1.12)" font-size="15.5" text-anchor="end" fill="#000" stroke="#000" stroke-width="0.45">0.0</text>
<line x1="97.1" y1="2574.08" x2="106.1" y2="2574.08" stroke="#000" stroke-width="3" stroke-linecap="butt"/>
<text transform="translate(87.4 2579.58) scale(1 1.12)" font-size="15.5" text-anchor="end" fill="#000" stroke="#000" stroke-width="0.45">0.2</text>
<line x1="97.1" y1="2510.23" x2="106.1" y2="2510.23" stroke="#000" stroke-width="3" stroke-linecap="butt"/>
<text transform="translate(87.4 2515.73) scale(1 1.12)" font-size="15.5" text-anchor="end" fill="#000" stroke="#000" stroke-width="0.45">0.4</text>
<line x1="97.1" y1="2446.37" x2="106.1" y2="2446.37" stroke="#000" stroke-width="3" stroke-linecap="butt"/>
<text transform="translate(87.4 2451.87) scale(1 1.12)" font-size="15.5" text-anchor="end" fill="#000" stroke="#000" stroke-width="0.45">0.6</text>
<line x1="97.1" y1="2382.52" x2="106.1" y2="2382.52" stroke="#000" stroke-width="3" stroke-linecap="butt"/>
<text transform="translate(87.4 2388.02) scale(1 1.12)" font-size="15.5" text-anchor="end" fill="#000" stroke="#000" stroke-width="0.45">0.8</text>
<line x1="97.1" y1="2318.66" x2="106.1" y2="2318.66" stroke="#000" stroke-width="3" stroke-linecap="butt"/>
<text transform="translate(87.4 2324.16) scale(1 1.12)" font-size="15.5" text-anchor="end" fill="#000" stroke="#000" stroke-width="0.45">1.0</text>
<text transform="translate(286.35 2708.4) scale(1 1.04)" font-size="15.5" text-anchor="middle" fill="#000" stroke="#000" stroke-width="0.45">1-Specificity</text>
<text transform="translate(53.6 2478.3) rotate(-90) scale(1 1.04)" font-size="15.5" text-anchor="middle" fill="#000" stroke="#000" stroke-width="0.45">Sensitivity</text>
<text transform="translate(282 2278) scale(1 1.04)" font-size="22.5" text-anchor="middle" fill="#000" stroke="#000" stroke-width="0.45">(PI-CAI set)</text>
<text transform="translate(283.5 2295.8) scale(1 1.04)" font-size="22.5" text-anchor="middle" fill="#000" stroke="#000" stroke-width="0.45">p=0.021</text>
<clipPath id="r10"><rect x="604.2" y="2302.7" width="360.7" height="351.2"/></clipPath>
<g clip-path="url(#r10)">
<path d="M620.6 2637.94L620.6 2318.66L948.5 2318.66L948.5 2318.66L919.98 2337.5L906.86 2343.89L887.51 2374.86L868.17 2390.18L855.38 2398.48L836.03 2402.95L824.23 2422.11L814.72 2426.58L805.86 2426.58L797.34 2433.92L785.53 2449.25L762.91 2461.06L754.38 2472.87L743.56 2492.03L722.25 2497.46L701.92 2507.03L693.06 2514.7L685.52 2530.66L682.57 2542.47L677 2580.15L671.75 2610.16L652.4 2618.78L641.58 2631.87L620.6 2637.3Z" fill="#d1d1d1"/>
<path d="M620.6 2318.66L948.5 2318.66" fill="none" stroke="#111" stroke-width="2.8" stroke-linejoin="round"/>
<path d="M620.6 2637.3L641.58 2631.87L652.4 2618.78L671.75 2610.16L677 2580.15L682.57 2542.47L685.52 2530.66L693.06 2514.7L701.92 2507.03L722.25 2497.46L743.56 2492.03L754.38 2472.87L762.91 2461.06L785.53 2449.25L797.34 2433.92L805.86 2426.58L814.72 2426.58L824.23 2422.11L836.03 2402.95L855.38 2398.48L868.17 2390.18L887.51 2374.86L906.86 2343.89L919.98 2337.5L948.5 2318.66" fill="none" stroke="#111" stroke-width="2.8" stroke-dasharray="10.4 4.1" stroke-linejoin="round"/>
<rect x="729.3" y="2597.6" width="227.8" height="48.6" rx="3.5" fill="#fff" fill-opacity="0.8" stroke="#cccccc" stroke-width="3.2"/>
</g>
<text transform="translate(653.39 2382.52) scale(1 1.04)" font-size="15.5" text-anchor="start" fill="#000" stroke="#000" stroke-width="0.45">Area difference = 0.444</text>
<line x1="734.4" y1="2609.5" x2="768.3" y2="2609.5" stroke="#111" stroke-width="2.8" stroke-linecap="butt"/>
<text transform="translate(778.8 2615.2) scale(1 1.04)" font-size="15.5" text-anchor="start" fill="#000" stroke="#000" stroke-width="0.45">MRI-PTPCa, AUC=1.000</text>
<line x1="735.1" y1="2631.7" x2="767.6" y2="2631.7" stroke="#111" stroke-width="2.8" stroke-linecap="butt" stroke-dasharray="10.4 4.1"/>
<text transform="translate(778.8 2636.9) scale(1 1.04)" font-size="15.5" text-anchor="start" fill="#000" stroke="#000" stroke-width="0.45">PSA</text>
<text transform="translate(861.8 2636.9) scale(1 1.04)" font-size="15.5" text-anchor="start" fill="#000" stroke="#000" stroke-width="0.45">, AUC=0.556</text>
<rect x="604.2" y="2302.7" width="360.7" height="351.2" fill="none" stroke="#000" stroke-width="3"/>
<line x1="620.6" y1="2653.9" x2="620.6" y2="2662.9" stroke="#000" stroke-width="3" stroke-linecap="butt"/>
<text transform="translate(620.6 2683) scale(1 1.12)" font-size="15.5" text-anchor="middle" fill="#000" stroke="#000" stroke-width="0.45">0.0</text>
<line x1="686.18" y1="2653.9" x2="686.18" y2="2662.9" stroke="#000" stroke-width="3" stroke-linecap="butt"/>
<text transform="translate(686.18 2683) scale(1 1.12)" font-size="15.5" text-anchor="middle" fill="#000" stroke="#000" stroke-width="0.45">0.2</text>
<line x1="751.76" y1="2653.9" x2="751.76" y2="2662.9" stroke="#000" stroke-width="3" stroke-linecap="butt"/>
<text transform="translate(751.76 2683) scale(1 1.12)" font-size="15.5" text-anchor="middle" fill="#000" stroke="#000" stroke-width="0.45">0.4</text>
<line x1="817.34" y1="2653.9" x2="817.34" y2="2662.9" stroke="#000" stroke-width="3" stroke-linecap="butt"/>
<text transform="translate(817.34 2683) scale(1 1.12)" font-size="15.5" text-anchor="middle" fill="#000" stroke="#000" stroke-width="0.45">0.6</text>
<line x1="882.92" y1="2653.9" x2="882.92" y2="2662.9" stroke="#000" stroke-width="3" stroke-linecap="butt"/>
<text transform="translate(882.92 2683) scale(1 1.12)" font-size="15.5" text-anchor="middle" fill="#000" stroke="#000" stroke-width="0.45">0.8</text>
<line x1="948.5" y1="2653.9" x2="948.5" y2="2662.9" stroke="#000" stroke-width="3" stroke-linecap="butt"/>
<text transform="translate(948.5 2683) scale(1 1.12)" font-size="15.5" text-anchor="middle" fill="#000" stroke="#000" stroke-width="0.45">1.0</text>
<line x1="595.2" y1="2637.94" x2="604.2" y2="2637.94" stroke="#000" stroke-width="3" stroke-linecap="butt"/>
<text transform="translate(585.5 2643.44) scale(1 1.12)" font-size="15.5" text-anchor="end" fill="#000" stroke="#000" stroke-width="0.45">0.0</text>
<line x1="595.2" y1="2574.08" x2="604.2" y2="2574.08" stroke="#000" stroke-width="3" stroke-linecap="butt"/>
<text transform="translate(585.5 2579.58) scale(1 1.12)" font-size="15.5" text-anchor="end" fill="#000" stroke="#000" stroke-width="0.45">0.2</text>
<line x1="595.2" y1="2510.23" x2="604.2" y2="2510.23" stroke="#000" stroke-width="3" stroke-linecap="butt"/>
<text transform="translate(585.5 2515.73) scale(1 1.12)" font-size="15.5" text-anchor="end" fill="#000" stroke="#000" stroke-width="0.45">0.4</text>
<line x1="595.2" y1="2446.37" x2="604.2" y2="2446.37" stroke="#000" stroke-width="3" stroke-linecap="butt"/>
<text transform="translate(585.5 2451.87) scale(1 1.12)" font-size="15.5" text-anchor="end" fill="#000" stroke="#000" stroke-width="0.45">0.6</text>
<line x1="595.2" y1="2382.52" x2="604.2" y2="2382.52" stroke="#000" stroke-width="3" stroke-linecap="butt"/>
<text transform="translate(585.5 2388.02) scale(1 1.12)" font-size="15.5" text-anchor="end" fill="#000" stroke="#000" stroke-width="0.45">0.8</text>
<line x1="595.2" y1="2318.66" x2="604.2" y2="2318.66" stroke="#000" stroke-width="3" stroke-linecap="butt"/>
<text transform="translate(585.5 2324.16) scale(1 1.12)" font-size="15.5" text-anchor="end" fill="#000" stroke="#000" stroke-width="0.45">1.0</text>
<text transform="translate(784.55 2708.4) scale(1 1.04)" font-size="15.5" text-anchor="middle" fill="#000" stroke="#000" stroke-width="0.45">1-Specificity</text>
<text transform="translate(551.7 2478.3) rotate(-90) scale(1 1.04)" font-size="15.5" text-anchor="middle" fill="#000" stroke="#000" stroke-width="0.45">Sensitivity</text>
<text transform="translate(788.2 2278) scale(1 1.04)" font-size="22.5" text-anchor="middle" fill="#000" stroke="#000" stroke-width="0.45">(Prospective test set)</text>
<text transform="translate(782.7 2295.8) scale(1 1.04)" font-size="22.5" text-anchor="middle" fill="#000" stroke="#000" stroke-width="0.45">p&lt;0.001</text>
<clipPath id="r11"><rect x="1102.7" y="2302.7" width="360.7" height="351.2"/></clipPath>
<g clip-path="url(#r11)">
<path d="M1119.1 2637.94L1119.1 2318.66L1447 2318.66L1447 2318.66L1382.41 2334.85L1163.36 2420.13L1119.1 2637.94Z" fill="#d1d1d1"/>
<path d="M1119.1 2318.66L1447 2318.66" fill="none" stroke="#111" stroke-width="2.8" stroke-linejoin="round"/>
<path d="M1119.1 2637.94L1163.36 2420.13L1382.41 2334.85L1447 2318.66" fill="none" stroke="#111" stroke-width="2.8" stroke-dasharray="10.4 4.1" stroke-linejoin="round"/>
<rect x="1227.8" y="2597.6" width="227.8" height="48.6" rx="3.5" fill="#fff" fill-opacity="0.8" stroke="#cccccc" stroke-width="3.2"/>
</g>
<text transform="translate(1151.89 2406.14) scale(1 1.04)" font-size="15.5" text-anchor="start" fill="#000" stroke="#000" stroke-width="0.45">Area difference = 0.158</text>
<line x1="1232.9" y1="2609.5" x2="1266.8" y2="2609.5" stroke="#111" stroke-width="2.8" stroke-linecap="butt"/>
<text transform="translate(1277.3 2615.2) scale(1 1.04)" font-size="15.5" text-anchor="start" fill="#000" stroke="#000" stroke-width="0.45">MRI-PTPCa, AUC=1.000</text>
<line x1="1233.6" y1="2631.7" x2="1266.1" y2="2631.7" stroke="#111" stroke-width="2.8" stroke-linecap="butt" stroke-dasharray="10.4 4.1"/>
<text transform="translate(1277.3 2636.9) scale(1 1.04)" font-size="15.5" text-anchor="start" fill="#000" stroke="#000" stroke-width="0.45">PI-RADS, AUC=0.842</text>
<rect x="1102.7" y="2302.7" width="360.7" height="351.2" fill="none" stroke="#000" stroke-width="3"/>
<line x1="1119.1" y1="2653.9" x2="1119.1" y2="2662.9" stroke="#000" stroke-width="3" stroke-linecap="butt"/>
<text transform="translate(1119.1 2683) scale(1 1.12)" font-size="15.5" text-anchor="middle" fill="#000" stroke="#000" stroke-width="0.45">0.0</text>
<line x1="1184.68" y1="2653.9" x2="1184.68" y2="2662.9" stroke="#000" stroke-width="3" stroke-linecap="butt"/>
<text transform="translate(1184.68 2683) scale(1 1.12)" font-size="15.5" text-anchor="middle" fill="#000" stroke="#000" stroke-width="0.45">0.2</text>
<line x1="1250.26" y1="2653.9" x2="1250.26" y2="2662.9" stroke="#000" stroke-width="3" stroke-linecap="butt"/>
<text transform="translate(1250.26 2683) scale(1 1.12)" font-size="15.5" text-anchor="middle" fill="#000" stroke="#000" stroke-width="0.45">0.4</text>
<line x1="1315.84" y1="2653.9" x2="1315.84" y2="2662.9" stroke="#000" stroke-width="3" stroke-linecap="butt"/>
<text transform="translate(1315.84 2683) scale(1 1.12)" font-size="15.5" text-anchor="middle" fill="#000" stroke="#000" stroke-width="0.45">0.6</text>
<line x1="1381.42" y1="2653.9" x2="1381.42" y2="2662.9" stroke="#000" stroke-width="3" stroke-linecap="butt"/>
<text transform="translate(1381.42 2683) scale(1 1.12)" font-size="15.5" text-anchor="middle" fill="#000" stroke="#000" stroke-width="0.45">0.8</text>
<line x1="1447" y1="2653.9" x2="1447" y2="2662.9" stroke="#000" stroke-width="3" stroke-linecap="butt"/>
<text transform="translate(1447 2683) scale(1 1.12)" font-size="15.5" text-anchor="middle" fill="#000" stroke="#000" stroke-width="0.45">1.0</text>
<line x1="1093.7" y1="2624.82" x2="1102.7" y2="2624.82" stroke="#000" stroke-width="3" stroke-linecap="butt"/>
<text transform="translate(1084 2630.32) scale(1 1.12)" font-size="15.5" text-anchor="end" fill="#000" stroke="#000" stroke-width="0.45">0.3</text>
<line x1="1093.7" y1="2581.08" x2="1102.7" y2="2581.08" stroke="#000" stroke-width="3" stroke-linecap="butt"/>
<text transform="translate(1084 2586.58) scale(1 1.12)" font-size="15.5" text-anchor="end" fill="#000" stroke="#000" stroke-width="0.45">0.4</text>
<line x1="1093.7" y1="2537.34" x2="1102.7" y2="2537.34" stroke="#000" stroke-width="3" stroke-linecap="butt"/>
<text transform="translate(1084 2542.84) scale(1 1.12)" font-size="15.5" text-anchor="end" fill="#000" stroke="#000" stroke-width="0.45">0.5</text>
<line x1="1093.7" y1="2493.61" x2="1102.7" y2="2493.61" stroke="#000" stroke-width="3" stroke-linecap="butt"/>
<text transform="translate(1084 2499.11) scale(1 1.12)" font-size="15.5" text-anchor="end" fill="#000" stroke="#000" stroke-width="0.45">0.6</text>
<line x1="1093.7" y1="2449.87" x2="1102.7" y2="2449.87" stroke="#000" stroke-width="3" stroke-linecap="butt"/>
<text transform="translate(1084 2455.37) scale(1 1.12)" font-size="15.5" text-anchor="end" fill="#000" stroke="#000" stroke-width="0.45">0.7</text>
<line x1="1093.7" y1="2406.14" x2="1102.7" y2="2406.14" stroke="#000" stroke-width="3" stroke-linecap="butt"/>
<text transform="translate(1084 2411.64) scale(1 1.12)" font-size="15.5" text-anchor="end" fill="#000" stroke="#000" stroke-width="0.45">0.8</text>
<line x1="1093.7" y1="2362.4" x2="1102.7" y2="2362.4" stroke="#000" stroke-width="3" stroke-linecap="butt"/>
<text transform="translate(1084 2367.9) scale(1 1.12)" font-size="15.5" text-anchor="end" fill="#000" stroke="#000" stroke-width="0.45">0.9</text>
<line x1="1093.7" y1="2318.66" x2="1102.7" y2="2318.66" stroke="#000" stroke-width="3" stroke-linecap="butt"/>
<text transform="translate(1084 2324.16) scale(1 1.12)" font-size="15.5" text-anchor="end" fill="#000" stroke="#000" stroke-width="0.45">1.0</text>
<text transform="translate(1283.05 2708.4) scale(1 1.04)" font-size="15.5" text-anchor="middle" fill="#000" stroke="#000" stroke-width="0.45">1-Specificity</text>
<text transform="translate(1050.2 2478.3) rotate(-90) scale(1 1.04)" font-size="15.5" text-anchor="middle" fill="#000" stroke="#000" stroke-width="0.45">Sensitivity</text>
<text transform="translate(1281 2278) scale(1 1.04)" font-size="22.5" text-anchor="middle" fill="#000" stroke="#000" stroke-width="0.45">(PI-CAI set)</text>
<text transform="translate(1281 2295.8) scale(1 1.04)" font-size="22.5" text-anchor="middle" fill="#000" stroke="#000" stroke-width="0.45">p=0.015</text>
<clipPath id="r12"><rect x="1601.2" y="2302.7" width="360.7" height="351.2"/></clipPath>
<g clip-path="url(#r12)">
<path d="M1617.6 2637.94L1619.24 2539.28L1622.51 2487.88L1627.76 2469.68L1631.04 2354.42L1635.3 2320.26L1945.5 2318.66L1945.5 2318.66L1691.38 2406.14L1626.78 2560.99L1617.6 2637.94Z" fill="#d1d1d1"/>
<path d="M1617.6 2637.94L1619.24 2539.28L1622.51 2487.88L1627.76 2469.68L1631.04 2354.42L1635.3 2320.26L1945.5 2318.66" fill="none" stroke="#111" stroke-width="2.8" stroke-linejoin="round"/>
<path d="M1617.6 2637.94L1626.78 2560.99L1691.38 2406.14L1945.5 2318.66" fill="none" stroke="#111" stroke-width="2.8" stroke-dasharray="10.4 4.1" stroke-linejoin="round"/>
<rect x="1726.3" y="2597.6" width="227.8" height="48.6" rx="3.5" fill="#fff" fill-opacity="0.8" stroke="#cccccc" stroke-width="3.2"/>
</g>
<text transform="translate(1650.39 2382.52) scale(1 1.04)" font-size="15.5" text-anchor="start" fill="#000" stroke="#000" stroke-width="0.45">Area difference = 0.203</text>
<line x1="1731.4" y1="2609.5" x2="1765.3" y2="2609.5" stroke="#111" stroke-width="2.8" stroke-linecap="butt"/>
<text transform="translate(1775.8 2615.2) scale(1 1.04)" font-size="15.5" text-anchor="start" fill="#000" stroke="#000" stroke-width="0.45">MRI-PTPCa, AUC=0.972</text>
<line x1="1732.1" y1="2631.7" x2="1764.6" y2="2631.7" stroke="#111" stroke-width="2.8" stroke-linecap="butt" stroke-dasharray="10.4 4.1"/>
<text transform="translate(1775.8 2636.9) scale(1 1.04)" font-size="15.5" text-anchor="start" fill="#000" stroke="#000" stroke-width="0.45">PI-RADS, AUC=0.768</text>
<rect x="1601.2" y="2302.7" width="360.7" height="351.2" fill="none" stroke="#000" stroke-width="3"/>
<line x1="1617.6" y1="2653.9" x2="1617.6" y2="2662.9" stroke="#000" stroke-width="3" stroke-linecap="butt"/>
<text transform="translate(1617.6 2683) scale(1 1.12)" font-size="15.5" text-anchor="middle" fill="#000" stroke="#000" stroke-width="0.45">0.0</text>
<line x1="1683.18" y1="2653.9" x2="1683.18" y2="2662.9" stroke="#000" stroke-width="3" stroke-linecap="butt"/>
<text transform="translate(1683.18 2683) scale(1 1.12)" font-size="15.5" text-anchor="middle" fill="#000" stroke="#000" stroke-width="0.45">0.2</text>
<line x1="1748.76" y1="2653.9" x2="1748.76" y2="2662.9" stroke="#000" stroke-width="3" stroke-linecap="butt"/>
<text transform="translate(1748.76 2683) scale(1 1.12)" font-size="15.5" text-anchor="middle" fill="#000" stroke="#000" stroke-width="0.45">0.4</text>
<line x1="1814.34" y1="2653.9" x2="1814.34" y2="2662.9" stroke="#000" stroke-width="3" stroke-linecap="butt"/>
<text transform="translate(1814.34 2683) scale(1 1.12)" font-size="15.5" text-anchor="middle" fill="#000" stroke="#000" stroke-width="0.45">0.6</text>
<line x1="1879.92" y1="2653.9" x2="1879.92" y2="2662.9" stroke="#000" stroke-width="3" stroke-linecap="butt"/>
<text transform="translate(1879.92 2683) scale(1 1.12)" font-size="15.5" text-anchor="middle" fill="#000" stroke="#000" stroke-width="0.45">0.8</text>
<line x1="1945.5" y1="2653.9" x2="1945.5" y2="2662.9" stroke="#000" stroke-width="3" stroke-linecap="butt"/>
<text transform="translate(1945.5 2683) scale(1 1.12)" font-size="15.5" text-anchor="middle" fill="#000" stroke="#000" stroke-width="0.45">1.0</text>
<line x1="1592.2" y1="2637.94" x2="1601.2" y2="2637.94" stroke="#000" stroke-width="3" stroke-linecap="butt"/>
<text transform="translate(1582.5 2643.44) scale(1 1.12)" font-size="15.5" text-anchor="end" fill="#000" stroke="#000" stroke-width="0.45">0.0</text>
<line x1="1592.2" y1="2574.08" x2="1601.2" y2="2574.08" stroke="#000" stroke-width="3" stroke-linecap="butt"/>
<text transform="translate(1582.5 2579.58) scale(1 1.12)" font-size="15.5" text-anchor="end" fill="#000" stroke="#000" stroke-width="0.45">0.2</text>
<line x1="1592.2" y1="2510.23" x2="1601.2" y2="2510.23" stroke="#000" stroke-width="3" stroke-linecap="butt"/>
<text transform="translate(1582.5 2515.73) scale(1 1.12)" font-size="15.5" text-anchor="end" fill="#000" stroke="#000" stroke-width="0.45">0.4</text>
<line x1="1592.2" y1="2446.37" x2="1601.2" y2="2446.37" stroke="#000" stroke-width="3" stroke-linecap="butt"/>
<text transform="translate(1582.5 2451.87) scale(1 1.12)" font-size="15.5" text-anchor="end" fill="#000" stroke="#000" stroke-width="0.45">0.6</text>
<line x1="1592.2" y1="2382.52" x2="1601.2" y2="2382.52" stroke="#000" stroke-width="3" stroke-linecap="butt"/>
<text transform="translate(1582.5 2388.02) scale(1 1.12)" font-size="15.5" text-anchor="end" fill="#000" stroke="#000" stroke-width="0.45">0.8</text>
<line x1="1592.2" y1="2318.66" x2="1601.2" y2="2318.66" stroke="#000" stroke-width="3" stroke-linecap="butt"/>
<text transform="translate(1582.5 2324.16) scale(1 1.12)" font-size="15.5" text-anchor="end" fill="#000" stroke="#000" stroke-width="0.45">1.0</text>
<text transform="translate(1781.55 2708.4) scale(1 1.04)" font-size="15.5" text-anchor="middle" fill="#000" stroke="#000" stroke-width="0.45">1-Specificity</text>
<text transform="translate(1548.7 2478.3) rotate(-90) scale(1 1.04)" font-size="15.5" text-anchor="middle" fill="#000" stroke="#000" stroke-width="0.45">Sensitivity</text>
<text transform="translate(1776.9 2278) scale(1 1.04)" font-size="22.5" text-anchor="middle" fill="#000" stroke="#000" stroke-width="0.45">(Prospective test set)</text>
<text transform="translate(1779.8 2295.8) scale(1 1.04)" font-size="22.5" text-anchor="middle" fill="#000" stroke="#000" stroke-width="0.45">p&lt;0.001</text>
<text transform="translate(10.5 21)" font-size="37.5" text-anchor="start" font-weight="bold" fill="#000" stroke="#000" stroke-width="0.6">a</text>
<text transform="translate(9.6 1260)" font-size="37.5" text-anchor="start" font-weight="bold" fill="#000" stroke="#000" stroke-width="0.6">b</text>
<text transform="translate(1036.7 1273.2)" font-size="37.5" text-anchor="start" font-weight="bold" fill="#000" stroke="#000" stroke-width="0.6">c</text>
</svg></body></html>
